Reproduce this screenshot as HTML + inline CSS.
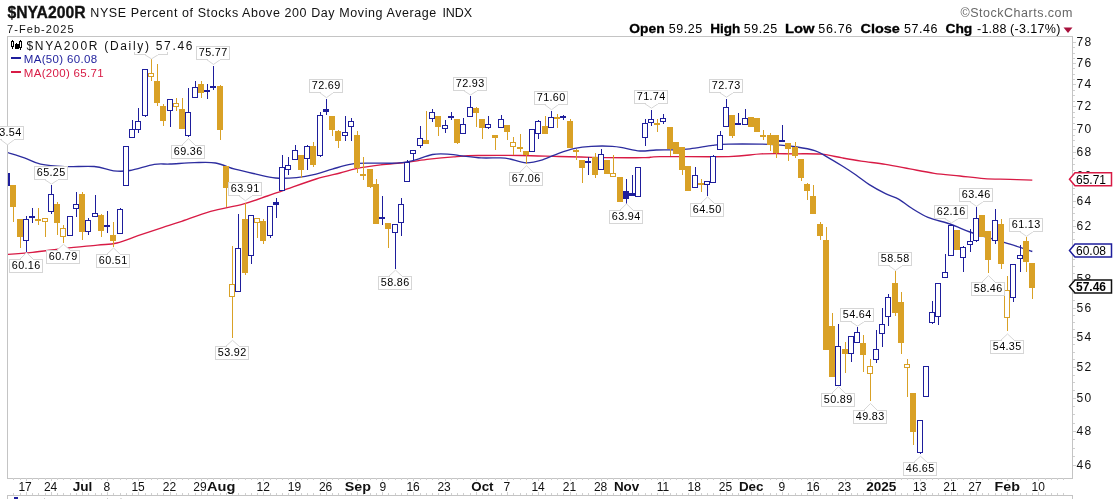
<!DOCTYPE html><html><head><meta charset="utf-8"><style>
html,body{margin:0;padding:0;background:#fff;}
body{width:1117px;height:499px;overflow:hidden;position:relative;font-family:"Liberation Sans",sans-serif;}
svg{position:absolute;left:0;top:0;}
text{font-family:"Liberation Sans",sans-serif;}
#wrap{position:absolute;left:0;top:0;width:1117px;height:499px;will-change:transform;}
</style></head><body><div id="wrap">
<svg width="1117" height="499" viewBox="0 0 1117 499" shape-rendering="crispEdges">
<g>

<text x="7.5" y="18" font-size="16.5" fill="#111" textLength="78" lengthAdjust="spacingAndGlyphs" font-weight="bold" stroke="#111" stroke-width="0.35">$NYA200R</text>
<text x="90.3" y="17.2" font-size="12.5" fill="#111" textLength="346" lengthAdjust="spacing" >NYSE Percent of Stocks Above 200 Day Moving Average</text>
<text x="442.5" y="17.2" font-size="12.5" fill="#111" textLength="29.5" lengthAdjust="spacing" >INDX</text>
<text x="7" y="32.7" font-size="11" fill="#111" textLength="66.5" lengthAdjust="spacing" >7-Feb-2025</text>
<text x="960.5" y="17" font-size="12.5" fill="#666" textLength="112" lengthAdjust="spacing" >©StockCharts.com</text>
<text x="629.3" y="33.3" font-size="12.5" fill="#000" textLength="35.3" lengthAdjust="spacingAndGlyphs" font-weight="bold" stroke="#000" stroke-width="0.3">Open</text>
<text x="668.8" y="33.3" font-size="12.5" fill="#000" textLength="33.3" lengthAdjust="spacing" >59.25</text>
<text x="710.2" y="33.3" font-size="12.5" fill="#000" textLength="30" lengthAdjust="spacingAndGlyphs" font-weight="bold" stroke="#000" stroke-width="0.3">High</text>
<text x="743.8" y="33.3" font-size="12.5" fill="#000" textLength="33.3" lengthAdjust="spacing" >59.25</text>
<text x="785" y="33.3" font-size="12.5" fill="#000" textLength="29.5" lengthAdjust="spacingAndGlyphs" font-weight="bold" stroke="#000" stroke-width="0.3">Low</text>
<text x="818.3" y="33.3" font-size="12.5" fill="#000" textLength="34" lengthAdjust="spacing" >56.76</text>
<text x="860.5" y="33.3" font-size="12.5" fill="#000" textLength="39.3" lengthAdjust="spacingAndGlyphs" font-weight="bold" stroke="#000" stroke-width="0.3">Close</text>
<text x="904" y="33.3" font-size="12.5" fill="#000" textLength="33.5" lengthAdjust="spacing" >57.46</text>
<text x="945.5" y="33.3" font-size="12.5" fill="#000" textLength="26.8" lengthAdjust="spacingAndGlyphs" font-weight="bold" stroke="#000" stroke-width="0.3">Chg</text>
<text x="977" y="33.3" font-size="12.5" fill="#000" textLength="29.5" lengthAdjust="spacing" >-1.88</text>
<text x="1010" y="33.3" font-size="12.5" fill="#000" textLength="50.5" lengthAdjust="spacing" >(-3.17%)</text>
<path d="M1063.5 27.5 L1072.5 27.5 L1068 33 Z" fill="#a8103c" shape-rendering="geometricPrecision"/>
<rect x="7.5" y="36.5" width="1065" height="442" fill="none" stroke="#c4c4c4" stroke-width="1"/>
<line x1="7" y1="495.5" x2="1073" y2="495.5" stroke="#c4c4c4"/>
<line x1="7.5" y1="495" x2="7.5" y2="499" stroke="#c4c4c4"/>
<line x1="1072.5" y1="495" x2="1072.5" y2="499" stroke="#c4c4c4"/>
<rect x="14" y="497" width="4" height="2" fill="#1e1e9c"/><rect x="44" y="498" width="1" height="1" fill="#ccc"/><rect x="107" y="498" width="1" height="1" fill="#ccc"/><rect x="120" y="498" width="2" height="1" fill="#ddd"/>
<defs><clipPath id="pc"><rect x="8" y="37" width="1064" height="441"/></clipPath></defs>
<g clip-path="url(#pc)">
<path d="M7.5 254.4 C11.7 254.1 22.9 253.3 32.5 252.3 C42.1 251.3 54.1 249.6 64.9 248.4 C75.7 247.2 88.7 246.0 97.4 245.1 C106.1 244.2 110.1 244.6 116.9 243.0 C123.7 241.4 130.4 238.3 138.0 235.7 C145.6 233.1 155.3 229.9 162.3 227.6 C169.3 225.3 171.9 224.6 180.0 221.9 C188.1 219.2 200.1 214.4 210.6 211.4 C221.1 208.4 233.5 206.7 243.0 204.1 C252.5 201.5 260.6 198.3 267.4 196.0 C274.2 193.7 275.5 193.1 283.6 190.3 C291.7 187.5 306.7 181.9 316.1 179.0 C325.5 176.1 333.3 174.7 340.0 173.0 C346.7 171.3 349.4 169.9 356.2 168.6 C363.0 167.2 372.5 165.9 380.6 164.9 C388.7 163.9 396.8 163.4 404.9 162.5 C413.0 161.6 421.2 160.1 429.3 159.2 C437.4 158.2 445.5 157.4 453.6 156.8 C461.7 156.2 466.9 155.7 478.0 155.5 C489.1 155.3 506.6 155.3 520.0 155.5 C533.5 155.7 546.8 156.2 558.7 156.5 C570.6 156.8 577.1 157.1 591.2 157.3 C605.3 157.5 631.6 157.8 643.1 157.7 C654.6 157.6 645.7 156.8 660.0 156.6 C674.3 156.4 711.8 157.0 728.7 156.6 C745.6 156.2 750.4 154.4 761.2 153.9 C772.0 153.4 783.6 153.8 793.6 153.8 C803.6 153.9 813.1 153.5 821.2 154.2 C829.3 154.9 835.6 156.8 842.3 157.9 C849.0 159.1 854.0 160.0 861.2 161.1 C868.4 162.2 877.4 163.1 885.5 164.4 C893.6 165.7 901.8 167.4 909.9 168.9 C918.0 170.4 925.9 172.1 934.2 173.3 C942.6 174.5 951.7 175.1 960.0 176.0 C968.3 176.9 975.9 178.0 984.2 178.6 C992.5 179.2 1002.0 179.0 1010.0 179.3 C1018.0 179.6 1028.6 180.0 1032.3 180.2" fill="none" stroke="#d81b45" stroke-width="1.35" shape-rendering="geometricPrecision" stroke-linejoin="round"/>
<path d="M7.5 152.5 C10.3 153.4 18.9 156.0 24.4 157.9 C29.9 159.8 33.9 162.8 40.6 164.2 C47.4 165.6 56.0 166.2 64.9 166.6 C73.8 167.0 86.1 165.8 94.2 166.5 C102.3 167.2 107.6 170.1 113.6 170.8 C119.5 171.5 123.1 171.6 129.9 170.5 C136.7 169.4 147.5 165.5 154.2 164.4 C160.9 163.3 163.3 164.3 170.0 164.0 C176.7 163.7 186.8 162.9 194.4 162.7 C202.0 162.5 208.8 161.9 215.5 163.0 C222.2 164.1 228.2 167.3 234.9 169.2 C241.7 171.0 249.2 172.6 256.0 174.1 C262.8 175.6 268.7 177.4 275.5 178.0 C282.3 178.6 289.8 178.2 296.6 177.6 C303.4 176.9 310.2 175.5 316.1 174.1 C322.1 172.7 326.4 170.9 332.3 169.2 C338.2 167.5 344.7 165.1 351.4 164.1 C358.1 163.1 364.9 163.3 372.5 163.1 C380.1 162.9 390.1 163.5 396.8 163.1 C403.6 162.7 407.1 162.0 413.0 160.6 C418.9 159.2 426.3 155.6 432.5 154.5 C438.7 153.4 445.5 154.1 450.4 154.3 C455.3 154.5 456.7 155.2 461.8 155.8 C466.9 156.4 474.7 157.6 481.2 157.9 C487.7 158.2 495.9 157.7 500.7 157.9 C505.5 158.1 505.8 158.2 510.0 159.0 C514.2 159.8 520.8 162.7 526.2 162.8 C531.6 162.9 537.1 161.4 542.5 159.8 C547.9 158.2 553.3 155.2 558.7 153.3 C564.1 151.4 569.5 149.6 574.9 148.4 C580.3 147.2 585.0 146.7 591.2 146.3 C597.4 146.0 606.9 146.0 612.3 146.3 C617.7 146.6 619.0 147.1 623.6 147.9 C628.2 148.7 634.5 150.7 639.9 151.0 C645.3 151.3 650.7 150.2 656.1 150.0 C661.5 149.8 666.6 150.0 672.3 149.8 C677.9 149.6 683.3 149.5 690.0 148.8 C696.7 148.1 706.0 146.2 712.5 145.4 C719.0 144.6 720.6 144.3 728.7 144.1 C736.8 143.9 753.1 144.0 761.2 144.1 C769.3 144.2 771.5 144.4 777.4 144.9 C783.3 145.4 790.7 146.1 796.9 147.0 C803.1 147.9 809.8 149.0 814.7 150.6 C819.6 152.2 821.5 153.7 826.1 156.3 C830.7 158.9 837.3 162.9 842.3 166.0 C847.3 169.1 851.5 171.9 856.0 175.0 C860.5 178.1 864.4 181.5 869.3 184.6 C874.2 187.7 880.5 191.1 885.5 193.6 C890.5 196.1 894.8 196.9 899.0 199.3 C903.2 201.7 906.2 204.8 911.0 207.8 C915.8 210.8 921.5 214.6 928.0 217.3 C934.5 220.0 943.0 221.6 950.0 224.0 C957.0 226.4 963.3 229.6 970.0 232.0 C976.7 234.4 983.3 236.2 990.0 238.2 C996.7 240.2 1003.0 242.0 1010.0 244.2 C1017.0 246.4 1028.6 250.3 1032.3 251.5" fill="none" stroke="#2d2d9f" stroke-width="1.35" shape-rendering="geometricPrecision" stroke-linejoin="round"/>
<rect x="4" y="173" width="6" height="13" fill="#1e1e9c"/>
<rect x="13" y="207" width="1" height="15" fill="#d9a126"/>
<rect x="10" y="185" width="6" height="22" fill="#d9a126"/>
<rect x="20" y="237" width="1" height="11" fill="#d9a126"/>
<rect x="17" y="219" width="6" height="18" fill="#d9a126"/>
<rect x="26" y="216" width="1" height="3" fill="#1e1e9c"/>
<rect x="26" y="241" width="1" height="11" fill="#1e1e9c"/>
<rect x="23.5" y="219.5" width="5" height="21" fill="#fff" stroke="#1e1e9c" stroke-width="1"/>
<rect x="32" y="208" width="1" height="8" fill="#1e1e9c"/>
<rect x="32" y="218" width="1" height="5" fill="#1e1e9c"/>
<rect x="29" y="216" width="6" height="2" fill="#1e1e9c"/>
<rect x="38" y="208" width="1" height="11" fill="#d9a126"/>
<rect x="38" y="221" width="1" height="4" fill="#d9a126"/>
<rect x="35" y="219" width="6" height="2" fill="#d9a126"/>
<rect x="45" y="222" width="1" height="15" fill="#d9a126"/>
<rect x="42.5" y="218.5" width="5" height="3" fill="#fff" stroke="#d9a126" stroke-width="1"/>
<rect x="51" y="185" width="1" height="9" fill="#1e1e9c"/>
<rect x="51" y="212" width="1" height="2" fill="#1e1e9c"/>
<rect x="48.5" y="194.5" width="5" height="17" fill="#fff" stroke="#1e1e9c" stroke-width="1"/>
<rect x="57" y="202" width="1" height="2" fill="#d9a126"/>
<rect x="57" y="223" width="1" height="12" fill="#d9a126"/>
<rect x="54" y="204" width="6" height="19" fill="#d9a126"/>
<rect x="63" y="225" width="1" height="3" fill="#d9a126"/>
<rect x="63" y="237" width="1" height="6" fill="#d9a126"/>
<rect x="60.5" y="228.5" width="5" height="8" fill="#fff" stroke="#d9a126" stroke-width="1"/>
<rect x="67.5" y="216.5" width="5" height="19" fill="#fff" stroke="#1e1e9c" stroke-width="1"/>
<rect x="76" y="192" width="1" height="12" fill="#1e1e9c"/>
<rect x="76" y="209" width="1" height="8" fill="#1e1e9c"/>
<rect x="73.5" y="204.5" width="5" height="4" fill="#fff" stroke="#1e1e9c" stroke-width="1"/>
<rect x="82" y="192" width="1" height="2" fill="#d9a126"/>
<rect x="82" y="232" width="1" height="8" fill="#d9a126"/>
<rect x="79" y="194" width="6" height="38" fill="#d9a126"/>
<rect x="88" y="218" width="1" height="2" fill="#1e1e9c"/>
<rect x="88" y="232" width="1" height="3" fill="#1e1e9c"/>
<rect x="85.5" y="220.5" width="5" height="11" fill="#fff" stroke="#1e1e9c" stroke-width="1"/>
<rect x="95" y="195" width="1" height="18" fill="#1e1e9c"/>
<rect x="92.5" y="213.5" width="5" height="3" fill="#fff" stroke="#1e1e9c" stroke-width="1"/>
<rect x="101" y="214" width="1" height="1" fill="#d9a126"/>
<rect x="101" y="231" width="1" height="6" fill="#d9a126"/>
<rect x="98" y="215" width="6" height="16" fill="#d9a126"/>
<rect x="107" y="211" width="1" height="14" fill="#1e1e9c"/>
<rect x="107" y="227" width="1" height="6" fill="#1e1e9c"/>
<rect x="104" y="225" width="6" height="2" fill="#1e1e9c"/>
<rect x="113" y="222" width="1" height="13" fill="#d9a126"/>
<rect x="113" y="241" width="1" height="6" fill="#d9a126"/>
<rect x="110" y="235" width="6" height="6" fill="#d9a126"/>
<rect x="120" y="208" width="1" height="1" fill="#1e1e9c"/>
<rect x="117.5" y="209.5" width="5" height="24" fill="#fff" stroke="#1e1e9c" stroke-width="1"/>
<rect x="123.5" y="146.5" width="5" height="39" fill="#fff" stroke="#1e1e9c" stroke-width="1"/>
<rect x="132" y="120" width="1" height="9" fill="#1e1e9c"/>
<rect x="129.5" y="129.5" width="5" height="8" fill="#fff" stroke="#1e1e9c" stroke-width="1"/>
<rect x="138" y="108" width="1" height="13" fill="#1e1e9c"/>
<rect x="138" y="130" width="1" height="3" fill="#1e1e9c"/>
<rect x="135.5" y="121.5" width="5" height="8" fill="#fff" stroke="#1e1e9c" stroke-width="1"/>
<rect x="145" y="116" width="1" height="1" fill="#1e1e9c"/>
<rect x="142.5" y="69.5" width="5" height="46" fill="#fff" stroke="#1e1e9c" stroke-width="1"/>
<rect x="151" y="59" width="1" height="14" fill="#d9a126"/>
<rect x="151" y="77" width="1" height="4" fill="#d9a126"/>
<rect x="148.5" y="73.5" width="5" height="3" fill="#fff" stroke="#d9a126" stroke-width="1"/>
<rect x="157" y="64" width="1" height="17" fill="#d9a126"/>
<rect x="157" y="103" width="1" height="3" fill="#d9a126"/>
<rect x="154" y="81" width="6" height="22" fill="#d9a126"/>
<rect x="163" y="104" width="1" height="2" fill="#d9a126"/>
<rect x="163" y="121" width="1" height="5" fill="#d9a126"/>
<rect x="160" y="106" width="6" height="15" fill="#d9a126"/>
<rect x="170" y="111" width="1" height="16" fill="#1e1e9c"/>
<rect x="167.5" y="99.5" width="5" height="11" fill="#fff" stroke="#1e1e9c" stroke-width="1"/>
<rect x="176" y="98" width="1" height="5" fill="#d9a126"/>
<rect x="176" y="107" width="1" height="4" fill="#d9a126"/>
<rect x="173.5" y="103.5" width="5" height="3" fill="#fff" stroke="#d9a126" stroke-width="1"/>
<rect x="182" y="98" width="1" height="11" fill="#d9a126"/>
<rect x="179" y="109" width="6" height="20" fill="#d9a126"/>
<rect x="188" y="88" width="1" height="24" fill="#1e1e9c"/>
<rect x="188" y="136" width="1" height="1" fill="#1e1e9c"/>
<rect x="185.5" y="112.5" width="5" height="23" fill="#fff" stroke="#1e1e9c" stroke-width="1"/>
<rect x="195" y="81" width="1" height="6" fill="#1e1e9c"/>
<rect x="192.5" y="87.5" width="5" height="10" fill="#fff" stroke="#1e1e9c" stroke-width="1"/>
<rect x="201" y="81" width="1" height="3" fill="#d9a126"/>
<rect x="201" y="93" width="1" height="5" fill="#d9a126"/>
<rect x="198" y="84" width="6" height="9" fill="#d9a126"/>
<rect x="207" y="84" width="1" height="6" fill="#1e1e9c"/>
<rect x="207" y="92" width="1" height="7" fill="#1e1e9c"/>
<rect x="204" y="90" width="6" height="2" fill="#1e1e9c"/>
<rect x="213" y="66" width="1" height="20" fill="#1e1e9c"/>
<rect x="213" y="88" width="1" height="2" fill="#1e1e9c"/>
<rect x="210" y="86" width="6" height="2" fill="#1e1e9c"/>
<rect x="220" y="85" width="1" height="1" fill="#d9a126"/>
<rect x="220" y="130" width="1" height="10" fill="#d9a126"/>
<rect x="217" y="86" width="6" height="44" fill="#d9a126"/>
<rect x="226" y="188" width="1" height="19" fill="#d9a126"/>
<rect x="223" y="166" width="6" height="22" fill="#d9a126"/>
<rect x="232" y="246" width="1" height="38" fill="#d9a126"/>
<rect x="232" y="297" width="1" height="41" fill="#d9a126"/>
<rect x="229.5" y="284.5" width="5" height="12" fill="#fff" stroke="#d9a126" stroke-width="1"/>
<rect x="238" y="214" width="1" height="34" fill="#1e1e9c"/>
<rect x="235.5" y="248.5" width="5" height="43" fill="#fff" stroke="#1e1e9c" stroke-width="1"/>
<rect x="245" y="203" width="1" height="16" fill="#d9a126"/>
<rect x="245" y="273" width="1" height="2" fill="#d9a126"/>
<rect x="242" y="219" width="6" height="54" fill="#d9a126"/>
<rect x="251" y="256" width="1" height="8" fill="#1e1e9c"/>
<rect x="248.5" y="215.5" width="5" height="40" fill="#fff" stroke="#1e1e9c" stroke-width="1"/>
<rect x="257" y="223" width="1" height="15" fill="#d9a126"/>
<rect x="254.5" y="218.5" width="5" height="4" fill="#fff" stroke="#d9a126" stroke-width="1"/>
<rect x="263" y="219" width="1" height="2" fill="#d9a126"/>
<rect x="263" y="241" width="1" height="3" fill="#d9a126"/>
<rect x="260" y="221" width="6" height="20" fill="#d9a126"/>
<rect x="270" y="236" width="1" height="2" fill="#1e1e9c"/>
<rect x="267.5" y="206.5" width="5" height="29" fill="#fff" stroke="#1e1e9c" stroke-width="1"/>
<rect x="276" y="198" width="1" height="4" fill="#1e1e9c"/>
<rect x="276" y="205" width="1" height="13" fill="#1e1e9c"/>
<rect x="273" y="202" width="6" height="3" fill="#1e1e9c"/>
<rect x="282" y="155" width="1" height="12" fill="#1e1e9c"/>
<rect x="279.5" y="167.5" width="5" height="23" fill="#fff" stroke="#1e1e9c" stroke-width="1"/>
<rect x="288" y="157" width="1" height="8" fill="#1e1e9c"/>
<rect x="288" y="170" width="1" height="5" fill="#1e1e9c"/>
<rect x="285.5" y="165.5" width="5" height="4" fill="#fff" stroke="#1e1e9c" stroke-width="1"/>
<rect x="295" y="145" width="1" height="5" fill="#1e1e9c"/>
<rect x="292.5" y="150.5" width="5" height="9" fill="#fff" stroke="#1e1e9c" stroke-width="1"/>
<rect x="301" y="170" width="1" height="8" fill="#d9a126"/>
<rect x="298" y="155" width="6" height="15" fill="#d9a126"/>
<rect x="307" y="145" width="1" height="1" fill="#1e1e9c"/>
<rect x="307" y="159" width="1" height="11" fill="#1e1e9c"/>
<rect x="304.5" y="146.5" width="5" height="12" fill="#fff" stroke="#1e1e9c" stroke-width="1"/>
<rect x="313" y="142" width="1" height="4" fill="#d9a126"/>
<rect x="313" y="165" width="1" height="2" fill="#d9a126"/>
<rect x="310" y="146" width="6" height="19" fill="#d9a126"/>
<rect x="320" y="112" width="1" height="3" fill="#1e1e9c"/>
<rect x="320" y="156" width="1" height="1" fill="#1e1e9c"/>
<rect x="317.5" y="115.5" width="5" height="40" fill="#fff" stroke="#1e1e9c" stroke-width="1"/>
<rect x="326" y="99" width="1" height="10" fill="#1e1e9c"/>
<rect x="326" y="112" width="1" height="3" fill="#1e1e9c"/>
<rect x="323" y="109" width="6" height="3" fill="#1e1e9c"/>
<rect x="332" y="130" width="1" height="6" fill="#d9a126"/>
<rect x="329" y="116" width="6" height="14" fill="#d9a126"/>
<rect x="338" y="130" width="1" height="1" fill="#d9a126"/>
<rect x="338" y="141" width="1" height="7" fill="#d9a126"/>
<rect x="335" y="131" width="6" height="10" fill="#d9a126"/>
<rect x="345" y="116" width="1" height="16" fill="#1e1e9c"/>
<rect x="345" y="136" width="1" height="5" fill="#1e1e9c"/>
<rect x="342.5" y="132.5" width="5" height="3" fill="#fff" stroke="#1e1e9c" stroke-width="1"/>
<rect x="351" y="118" width="1" height="3" fill="#1e1e9c"/>
<rect x="351" y="127" width="1" height="14" fill="#1e1e9c"/>
<rect x="348.5" y="121.5" width="5" height="5" fill="#fff" stroke="#1e1e9c" stroke-width="1"/>
<rect x="357" y="131" width="1" height="4" fill="#d9a126"/>
<rect x="357" y="168" width="1" height="5" fill="#d9a126"/>
<rect x="354" y="135" width="6" height="33" fill="#d9a126"/>
<rect x="363" y="157" width="1" height="17" fill="#d9a126"/>
<rect x="363" y="176" width="1" height="4" fill="#d9a126"/>
<rect x="360" y="174" width="6" height="2" fill="#d9a126"/>
<rect x="370" y="187" width="1" height="1" fill="#d9a126"/>
<rect x="367" y="169" width="6" height="18" fill="#d9a126"/>
<rect x="376" y="179" width="1" height="5" fill="#d9a126"/>
<rect x="373" y="184" width="6" height="40" fill="#d9a126"/>
<rect x="382" y="196" width="1" height="21" fill="#1e1e9c"/>
<rect x="382" y="219" width="1" height="6" fill="#1e1e9c"/>
<rect x="379" y="217" width="6" height="2" fill="#1e1e9c"/>
<rect x="388" y="229" width="1" height="19" fill="#d9a126"/>
<rect x="385" y="223" width="6" height="6" fill="#d9a126"/>
<rect x="395" y="233" width="1" height="36" fill="#1e1e9c"/>
<rect x="392.5" y="224.5" width="5" height="8" fill="#fff" stroke="#1e1e9c" stroke-width="1"/>
<rect x="401" y="198" width="1" height="6" fill="#1e1e9c"/>
<rect x="401" y="223" width="1" height="13" fill="#1e1e9c"/>
<rect x="398.5" y="204.5" width="5" height="18" fill="#fff" stroke="#1e1e9c" stroke-width="1"/>
<rect x="407" y="160" width="1" height="2" fill="#1e1e9c"/>
<rect x="404.5" y="162.5" width="5" height="19" fill="#fff" stroke="#1e1e9c" stroke-width="1"/>
<rect x="413" y="154" width="1" height="6" fill="#1e1e9c"/>
<rect x="410.5" y="150.5" width="5" height="3" fill="#fff" stroke="#1e1e9c" stroke-width="1"/>
<rect x="420" y="126" width="1" height="12" fill="#1e1e9c"/>
<rect x="420" y="146" width="1" height="2" fill="#1e1e9c"/>
<rect x="417.5" y="138.5" width="5" height="7" fill="#fff" stroke="#1e1e9c" stroke-width="1"/>
<rect x="426" y="111" width="1" height="29" fill="#d9a126"/>
<rect x="423" y="140" width="6" height="4" fill="#d9a126"/>
<rect x="432" y="109" width="1" height="3" fill="#1e1e9c"/>
<rect x="432" y="119" width="1" height="3" fill="#1e1e9c"/>
<rect x="429.5" y="112.5" width="5" height="6" fill="#fff" stroke="#1e1e9c" stroke-width="1"/>
<rect x="438" y="127" width="1" height="9" fill="#d9a126"/>
<rect x="435" y="116" width="6" height="11" fill="#d9a126"/>
<rect x="445" y="120" width="1" height="5" fill="#1e1e9c"/>
<rect x="445" y="129" width="1" height="4" fill="#1e1e9c"/>
<rect x="442.5" y="125.5" width="5" height="3" fill="#fff" stroke="#1e1e9c" stroke-width="1"/>
<rect x="451" y="112" width="1" height="4" fill="#1e1e9c"/>
<rect x="451" y="118" width="1" height="2" fill="#1e1e9c"/>
<rect x="448" y="116" width="6" height="2" fill="#1e1e9c"/>
<rect x="457" y="143" width="1" height="1" fill="#d9a126"/>
<rect x="454" y="119" width="6" height="24" fill="#d9a126"/>
<rect x="463" y="118" width="1" height="6" fill="#1e1e9c"/>
<rect x="460.5" y="124.5" width="5" height="9" fill="#fff" stroke="#1e1e9c" stroke-width="1"/>
<rect x="470" y="96" width="1" height="11" fill="#1e1e9c"/>
<rect x="467.5" y="107.5" width="5" height="9" fill="#fff" stroke="#1e1e9c" stroke-width="1"/>
<rect x="476" y="107" width="1" height="1" fill="#d9a126"/>
<rect x="476" y="113" width="1" height="14" fill="#d9a126"/>
<rect x="473" y="108" width="6" height="5" fill="#d9a126"/>
<rect x="482" y="128" width="1" height="11" fill="#d9a126"/>
<rect x="479" y="119" width="6" height="9" fill="#d9a126"/>
<rect x="488" y="116" width="1" height="8" fill="#1e1e9c"/>
<rect x="488" y="128" width="1" height="1" fill="#1e1e9c"/>
<rect x="485.5" y="124.5" width="5" height="3" fill="#fff" stroke="#1e1e9c" stroke-width="1"/>
<rect x="495" y="138" width="1" height="12" fill="#d9a126"/>
<rect x="492" y="135" width="6" height="3" fill="#d9a126"/>
<rect x="501" y="115" width="1" height="4" fill="#1e1e9c"/>
<rect x="498.5" y="119.5" width="5" height="8" fill="#fff" stroke="#1e1e9c" stroke-width="1"/>
<rect x="507" y="132" width="1" height="8" fill="#d9a126"/>
<rect x="504" y="125" width="6" height="7" fill="#d9a126"/>
<rect x="513" y="137" width="1" height="5" fill="#d9a126"/>
<rect x="513" y="147" width="1" height="8" fill="#d9a126"/>
<rect x="510.5" y="142.5" width="5" height="4" fill="#fff" stroke="#d9a126" stroke-width="1"/>
<rect x="520" y="134" width="1" height="13" fill="#d9a126"/>
<rect x="520" y="149" width="1" height="3" fill="#d9a126"/>
<rect x="517" y="147" width="6" height="2" fill="#d9a126"/>
<rect x="526" y="155" width="1" height="9" fill="#d9a126"/>
<rect x="523" y="151" width="6" height="4" fill="#d9a126"/>
<rect x="529.5" y="129.5" width="5" height="22" fill="#fff" stroke="#1e1e9c" stroke-width="1"/>
<rect x="538" y="120" width="1" height="1" fill="#1e1e9c"/>
<rect x="538" y="134" width="1" height="5" fill="#1e1e9c"/>
<rect x="535.5" y="121.5" width="5" height="12" fill="#fff" stroke="#1e1e9c" stroke-width="1"/>
<rect x="545" y="116" width="1" height="10" fill="#d9a126"/>
<rect x="542" y="126" width="6" height="8" fill="#d9a126"/>
<rect x="551" y="111" width="1" height="6" fill="#1e1e9c"/>
<rect x="548.5" y="117.5" width="5" height="10" fill="#fff" stroke="#1e1e9c" stroke-width="1"/>
<rect x="557" y="114" width="1" height="3" fill="#d9a126"/>
<rect x="557" y="119" width="1" height="9" fill="#d9a126"/>
<rect x="554" y="117" width="6" height="2" fill="#d9a126"/>
<rect x="563" y="115" width="1" height="1" fill="#1e1e9c"/>
<rect x="563" y="118" width="1" height="2" fill="#1e1e9c"/>
<rect x="560" y="116" width="6" height="2" fill="#1e1e9c"/>
<rect x="570" y="119" width="1" height="2" fill="#d9a126"/>
<rect x="567" y="121" width="6" height="27" fill="#d9a126"/>
<rect x="576" y="149" width="1" height="1" fill="#d9a126"/>
<rect x="576" y="152" width="1" height="8" fill="#d9a126"/>
<rect x="573" y="150" width="6" height="2" fill="#d9a126"/>
<rect x="582" y="168" width="1" height="15" fill="#d9a126"/>
<rect x="579" y="160" width="6" height="8" fill="#d9a126"/>
<rect x="588" y="157" width="1" height="4" fill="#1e1e9c"/>
<rect x="588" y="163" width="1" height="12" fill="#1e1e9c"/>
<rect x="585" y="161" width="6" height="2" fill="#1e1e9c"/>
<rect x="595" y="153" width="1" height="4" fill="#d9a126"/>
<rect x="595" y="175" width="1" height="3" fill="#d9a126"/>
<rect x="592" y="157" width="6" height="18" fill="#d9a126"/>
<rect x="601" y="149" width="1" height="5" fill="#1e1e9c"/>
<rect x="598.5" y="154.5" width="5" height="15" fill="#fff" stroke="#1e1e9c" stroke-width="1"/>
<rect x="604" y="160" width="6" height="14" fill="#d9a126"/>
<rect x="613" y="155" width="1" height="18" fill="#d9a126"/>
<rect x="610.5" y="173.5" width="5" height="3" fill="#fff" stroke="#d9a126" stroke-width="1"/>
<rect x="617" y="177" width="6" height="25" fill="#d9a126"/>
<rect x="626" y="179" width="1" height="12" fill="#1e1e9c"/>
<rect x="626" y="199" width="1" height="5" fill="#1e1e9c"/>
<rect x="623" y="191" width="6" height="8" fill="#1e1e9c"/>
<rect x="632" y="175" width="1" height="18" fill="#1e1e9c"/>
<rect x="629" y="193" width="6" height="3" fill="#1e1e9c"/>
<rect x="635.5" y="167.5" width="5" height="29" fill="#fff" stroke="#1e1e9c" stroke-width="1"/>
<rect x="645" y="119" width="1" height="4" fill="#1e1e9c"/>
<rect x="645" y="138" width="1" height="8" fill="#1e1e9c"/>
<rect x="642.5" y="123.5" width="5" height="14" fill="#fff" stroke="#1e1e9c" stroke-width="1"/>
<rect x="651" y="110" width="1" height="9" fill="#1e1e9c"/>
<rect x="651" y="123" width="1" height="3" fill="#1e1e9c"/>
<rect x="648.5" y="119.5" width="5" height="3" fill="#fff" stroke="#1e1e9c" stroke-width="1"/>
<rect x="657" y="119" width="1" height="4" fill="#d9a126"/>
<rect x="657" y="125" width="1" height="7" fill="#d9a126"/>
<rect x="654" y="123" width="6" height="2" fill="#d9a126"/>
<rect x="663" y="114" width="1" height="4" fill="#1e1e9c"/>
<rect x="663" y="122" width="1" height="2" fill="#1e1e9c"/>
<rect x="660.5" y="118.5" width="5" height="3" fill="#fff" stroke="#1e1e9c" stroke-width="1"/>
<rect x="670" y="149" width="1" height="7" fill="#d9a126"/>
<rect x="667" y="127" width="6" height="22" fill="#d9a126"/>
<rect x="673" y="142" width="6" height="12" fill="#d9a126"/>
<rect x="682" y="170" width="1" height="5" fill="#d9a126"/>
<rect x="679" y="147" width="6" height="23" fill="#d9a126"/>
<rect x="685" y="166" width="6" height="25" fill="#d9a126"/>
<rect x="695" y="167" width="1" height="8" fill="#1e1e9c"/>
<rect x="692.5" y="175.5" width="5" height="12" fill="#fff" stroke="#1e1e9c" stroke-width="1"/>
<rect x="701" y="179" width="1" height="4" fill="#d9a126"/>
<rect x="701" y="185" width="1" height="7" fill="#d9a126"/>
<rect x="698" y="183" width="6" height="2" fill="#d9a126"/>
<rect x="707" y="185" width="1" height="11" fill="#1e1e9c"/>
<rect x="704.5" y="181.5" width="5" height="3" fill="#fff" stroke="#1e1e9c" stroke-width="1"/>
<rect x="713" y="155" width="1" height="1" fill="#1e1e9c"/>
<rect x="710.5" y="156.5" width="5" height="26" fill="#fff" stroke="#1e1e9c" stroke-width="1"/>
<rect x="720" y="131" width="1" height="4" fill="#1e1e9c"/>
<rect x="717.5" y="135.5" width="5" height="14" fill="#fff" stroke="#1e1e9c" stroke-width="1"/>
<rect x="726" y="99" width="1" height="8" fill="#1e1e9c"/>
<rect x="723.5" y="107.5" width="5" height="19" fill="#fff" stroke="#1e1e9c" stroke-width="1"/>
<rect x="732" y="136" width="1" height="2" fill="#d9a126"/>
<rect x="729" y="115" width="6" height="21" fill="#d9a126"/>
<rect x="738" y="113" width="1" height="10" fill="#1e1e9c"/>
<rect x="735" y="123" width="6" height="2" fill="#1e1e9c"/>
<rect x="745" y="109" width="1" height="9" fill="#1e1e9c"/>
<rect x="742.5" y="118.5" width="5" height="6" fill="#fff" stroke="#1e1e9c" stroke-width="1"/>
<rect x="748" y="117" width="6" height="10" fill="#d9a126"/>
<rect x="754" y="118" width="6" height="14" fill="#d9a126"/>
<rect x="763" y="130" width="1" height="5" fill="#d9a126"/>
<rect x="763" y="137" width="1" height="3" fill="#d9a126"/>
<rect x="760" y="135" width="6" height="2" fill="#d9a126"/>
<rect x="770" y="133" width="1" height="2" fill="#d9a126"/>
<rect x="770" y="145" width="1" height="6" fill="#d9a126"/>
<rect x="767" y="135" width="6" height="10" fill="#d9a126"/>
<rect x="776" y="153" width="1" height="5" fill="#d9a126"/>
<rect x="773" y="135" width="6" height="18" fill="#d9a126"/>
<rect x="782" y="125" width="1" height="15" fill="#1e1e9c"/>
<rect x="779" y="140" width="6" height="2" fill="#1e1e9c"/>
<rect x="788" y="149" width="1" height="12" fill="#d9a126"/>
<rect x="785" y="143" width="6" height="6" fill="#d9a126"/>
<rect x="795" y="142" width="1" height="5" fill="#d9a126"/>
<rect x="795" y="156" width="1" height="2" fill="#d9a126"/>
<rect x="792" y="147" width="6" height="9" fill="#d9a126"/>
<rect x="801" y="178" width="1" height="3" fill="#d9a126"/>
<rect x="798" y="159" width="6" height="19" fill="#d9a126"/>
<rect x="807" y="183" width="1" height="1" fill="#d9a126"/>
<rect x="807" y="191" width="1" height="9" fill="#d9a126"/>
<rect x="804" y="184" width="6" height="7" fill="#d9a126"/>
<rect x="813" y="185" width="1" height="11" fill="#d9a126"/>
<rect x="810" y="196" width="6" height="18" fill="#d9a126"/>
<rect x="820" y="222" width="1" height="2" fill="#d9a126"/>
<rect x="820" y="236" width="1" height="4" fill="#d9a126"/>
<rect x="817" y="224" width="6" height="12" fill="#d9a126"/>
<rect x="826" y="227" width="1" height="13" fill="#d9a126"/>
<rect x="823" y="240" width="6" height="110" fill="#d9a126"/>
<rect x="832" y="313" width="1" height="13" fill="#d9a126"/>
<rect x="829" y="326" width="6" height="51" fill="#d9a126"/>
<rect x="838" y="324" width="1" height="22" fill="#1e1e9c"/>
<rect x="835.5" y="346.5" width="5" height="39" fill="#fff" stroke="#1e1e9c" stroke-width="1"/>
<rect x="845" y="342" width="1" height="7" fill="#d9a126"/>
<rect x="845" y="354" width="1" height="19" fill="#d9a126"/>
<rect x="842" y="349" width="6" height="5" fill="#d9a126"/>
<rect x="851" y="354" width="1" height="8" fill="#1e1e9c"/>
<rect x="848.5" y="336.5" width="5" height="17" fill="#fff" stroke="#1e1e9c" stroke-width="1"/>
<rect x="857" y="327" width="1" height="5" fill="#1e1e9c"/>
<rect x="854.5" y="332.5" width="5" height="10" fill="#fff" stroke="#1e1e9c" stroke-width="1"/>
<rect x="863" y="335" width="1" height="8" fill="#d9a126"/>
<rect x="863" y="355" width="1" height="17" fill="#d9a126"/>
<rect x="860" y="343" width="6" height="12" fill="#d9a126"/>
<rect x="870" y="359" width="1" height="7" fill="#d9a126"/>
<rect x="870" y="374" width="1" height="27" fill="#d9a126"/>
<rect x="867.5" y="366.5" width="5" height="7" fill="#fff" stroke="#d9a126" stroke-width="1"/>
<rect x="876" y="330" width="1" height="19" fill="#1e1e9c"/>
<rect x="876" y="360" width="1" height="3" fill="#1e1e9c"/>
<rect x="873.5" y="349.5" width="5" height="10" fill="#fff" stroke="#1e1e9c" stroke-width="1"/>
<rect x="882" y="308" width="1" height="16" fill="#1e1e9c"/>
<rect x="882" y="334" width="1" height="13" fill="#1e1e9c"/>
<rect x="879.5" y="324.5" width="5" height="9" fill="#fff" stroke="#1e1e9c" stroke-width="1"/>
<rect x="888" y="294" width="1" height="3" fill="#1e1e9c"/>
<rect x="888" y="317" width="1" height="9" fill="#1e1e9c"/>
<rect x="885.5" y="297.5" width="5" height="19" fill="#fff" stroke="#1e1e9c" stroke-width="1"/>
<rect x="895" y="271" width="1" height="12" fill="#d9a126"/>
<rect x="895" y="313" width="1" height="3" fill="#d9a126"/>
<rect x="892" y="283" width="6" height="30" fill="#d9a126"/>
<rect x="901" y="292" width="1" height="10" fill="#d9a126"/>
<rect x="901" y="343" width="1" height="11" fill="#d9a126"/>
<rect x="898" y="302" width="6" height="41" fill="#d9a126"/>
<rect x="907" y="359" width="1" height="5" fill="#d9a126"/>
<rect x="907" y="368" width="1" height="29" fill="#d9a126"/>
<rect x="904.5" y="364.5" width="5" height="3" fill="#fff" stroke="#d9a126" stroke-width="1"/>
<rect x="913" y="432" width="1" height="13" fill="#d9a126"/>
<rect x="910" y="393" width="6" height="39" fill="#d9a126"/>
<rect x="920" y="453" width="1" height="1" fill="#1e1e9c"/>
<rect x="917.5" y="420.5" width="5" height="32" fill="#fff" stroke="#1e1e9c" stroke-width="1"/>
<rect x="923.5" y="366.5" width="5" height="30" fill="#fff" stroke="#1e1e9c" stroke-width="1"/>
<rect x="932" y="301" width="1" height="11" fill="#1e1e9c"/>
<rect x="932" y="323" width="1" height="1" fill="#1e1e9c"/>
<rect x="929.5" y="312.5" width="5" height="10" fill="#fff" stroke="#1e1e9c" stroke-width="1"/>
<rect x="938" y="317" width="1" height="8" fill="#1e1e9c"/>
<rect x="935.5" y="283.5" width="5" height="33" fill="#fff" stroke="#1e1e9c" stroke-width="1"/>
<rect x="945" y="254" width="1" height="18" fill="#1e1e9c"/>
<rect x="942.5" y="272.5" width="5" height="5" fill="#fff" stroke="#1e1e9c" stroke-width="1"/>
<rect x="951" y="224" width="1" height="1" fill="#1e1e9c"/>
<rect x="948.5" y="225.5" width="5" height="30" fill="#fff" stroke="#1e1e9c" stroke-width="1"/>
<rect x="954" y="230" width="6" height="20" fill="#d9a126"/>
<rect x="963" y="246" width="1" height="1" fill="#1e1e9c"/>
<rect x="963" y="258" width="1" height="14" fill="#1e1e9c"/>
<rect x="960.5" y="247.5" width="5" height="10" fill="#fff" stroke="#1e1e9c" stroke-width="1"/>
<rect x="970" y="229" width="1" height="12" fill="#1e1e9c"/>
<rect x="970" y="245" width="1" height="7" fill="#1e1e9c"/>
<rect x="967.5" y="241.5" width="5" height="3" fill="#fff" stroke="#1e1e9c" stroke-width="1"/>
<rect x="976" y="207" width="1" height="11" fill="#1e1e9c"/>
<rect x="976" y="241" width="1" height="1" fill="#1e1e9c"/>
<rect x="973.5" y="218.5" width="5" height="22" fill="#fff" stroke="#1e1e9c" stroke-width="1"/>
<rect x="979" y="215" width="6" height="22" fill="#d9a126"/>
<rect x="988" y="260" width="1" height="13" fill="#d9a126"/>
<rect x="985" y="231" width="6" height="29" fill="#d9a126"/>
<rect x="995" y="209" width="1" height="11" fill="#1e1e9c"/>
<rect x="995" y="241" width="1" height="3" fill="#1e1e9c"/>
<rect x="992.5" y="220.5" width="5" height="20" fill="#fff" stroke="#1e1e9c" stroke-width="1"/>
<rect x="1001" y="219" width="1" height="5" fill="#d9a126"/>
<rect x="1001" y="264" width="1" height="5" fill="#d9a126"/>
<rect x="998" y="224" width="6" height="40" fill="#d9a126"/>
<rect x="1007" y="276" width="1" height="14" fill="#d9a126"/>
<rect x="1007" y="318" width="1" height="13" fill="#d9a126"/>
<rect x="1004.5" y="290.5" width="5" height="27" fill="#fff" stroke="#d9a126" stroke-width="1"/>
<rect x="1013" y="298" width="1" height="4" fill="#1e1e9c"/>
<rect x="1010.5" y="264.5" width="5" height="33" fill="#fff" stroke="#1e1e9c" stroke-width="1"/>
<rect x="1020" y="245" width="1" height="10" fill="#1e1e9c"/>
<rect x="1020" y="259" width="1" height="13" fill="#1e1e9c"/>
<rect x="1017.5" y="255.5" width="5" height="3" fill="#fff" stroke="#1e1e9c" stroke-width="1"/>
<rect x="1026" y="237" width="1" height="4" fill="#d9a126"/>
<rect x="1026" y="262" width="1" height="10" fill="#d9a126"/>
<rect x="1023" y="241" width="6" height="21" fill="#d9a126"/>
<rect x="1032" y="288" width="1" height="11" fill="#d9a126"/>
<rect x="1029" y="263" width="6" height="25" fill="#d9a126"/>
</g>
<path d="M144.5 54.5 L151.5 58.9 L158.5 54.5 Z" fill="#fff" stroke="#d6d6d6" stroke-width="1" shape-rendering="geometricPrecision"/>
<rect x="134.5" y="41.5" width="33" height="13" fill="#fff" stroke="#d6d6d6" stroke-width="1"/>
<line x1="145.5" y1="54.5" x2="157.5" y2="54.5" stroke="#fff" stroke-width="1.2"/>
<text x="136.8" y="51.3" font-size="10.8" fill="#000" textLength="28.4" lengthAdjust="spacing">76.43</text>
<path d="M0.5 139.5 L7.5 144.8 L14.5 139.5 Z" fill="#fff" stroke="#d6d6d6" stroke-width="1" shape-rendering="geometricPrecision"/>
<rect x="-9.5" y="126.5" width="33" height="13" fill="#fff" stroke="#d6d6d6" stroke-width="1"/>
<line x1="1.5" y1="139.5" x2="13.5" y2="139.5" stroke="#fff" stroke-width="1.2"/>
<text x="-7.2" y="136.3" font-size="10.8" fill="#000" textLength="28.4" lengthAdjust="spacing">63.54</text>
<path d="M44.5 179.5 L51.5 184.1068806286503 L58.5 179.5 Z" fill="#fff" stroke="#d6d6d6" stroke-width="1" shape-rendering="geometricPrecision"/>
<rect x="34.5" y="166.5" width="33" height="13" fill="#fff" stroke="#d6d6d6" stroke-width="1"/>
<line x1="45.5" y1="179.5" x2="57.5" y2="179.5" stroke="#fff" stroke-width="1.2"/>
<text x="36.8" y="176.3" font-size="10.8" fill="#000" textLength="28.4" lengthAdjust="spacing">65.25</text>
<path d="M19.5 259.5 L26.5 252.6327414485586 L33.5 259.5 Z" fill="#fff" stroke="#d6d6d6" stroke-width="1" shape-rendering="geometricPrecision"/>
<rect x="9.5" y="259.5" width="33" height="13" fill="#fff" stroke="#d6d6d6" stroke-width="1"/>
<line x1="20.5" y1="259.5" x2="32.5" y2="259.5" stroke="#fff" stroke-width="1.2"/>
<text x="11.8" y="269.3" font-size="10.8" fill="#000" textLength="28.4" lengthAdjust="spacing">60.16</text>
<path d="M56.5 250.5 L63.5 244.2920806513862 L70.5 250.5 Z" fill="#fff" stroke="#d6d6d6" stroke-width="1" shape-rendering="geometricPrecision"/>
<rect x="46.5" y="250.5" width="33" height="13" fill="#fff" stroke="#d6d6d6" stroke-width="1"/>
<line x1="57.5" y1="250.5" x2="69.5" y2="250.5" stroke="#fff" stroke-width="1.2"/>
<text x="48.8" y="260.3" font-size="10.8" fill="#000" textLength="28.4" lengthAdjust="spacing">60.79</text>
<path d="M106.5 254.5 L113.5 247.98831804901693 L120.5 254.5 Z" fill="#fff" stroke="#d6d6d6" stroke-width="1" shape-rendering="geometricPrecision"/>
<rect x="96.5" y="254.5" width="33" height="13" fill="#fff" stroke="#d6d6d6" stroke-width="1"/>
<line x1="107.5" y1="254.5" x2="119.5" y2="254.5" stroke="#fff" stroke-width="1.2"/>
<text x="98.8" y="264.3" font-size="10.8" fill="#000" textLength="28.4" lengthAdjust="spacing">60.51</text>
<path d="M206.5 59.5 L213.5 64.43159871073021 L220.5 59.5 Z" fill="#fff" stroke="#d6d6d6" stroke-width="1" shape-rendering="geometricPrecision"/>
<rect x="196.5" y="46.5" width="33" height="13" fill="#fff" stroke="#d6d6d6" stroke-width="1"/>
<line x1="207.5" y1="59.5" x2="219.5" y2="59.5" stroke="#fff" stroke-width="1.2"/>
<text x="198.8" y="56.3" font-size="10.8" fill="#000" textLength="28.4" lengthAdjust="spacing">75.77</text>
<path d="M181.5 145.5 L188.5 138.7009685127132 L195.5 145.5 Z" fill="#fff" stroke="#d6d6d6" stroke-width="1" shape-rendering="geometricPrecision"/>
<rect x="171.5" y="145.5" width="33" height="13" fill="#fff" stroke="#d6d6d6" stroke-width="1"/>
<line x1="182.5" y1="145.5" x2="194.5" y2="145.5" stroke="#fff" stroke-width="1.2"/>
<text x="173.8" y="155.3" font-size="10.8" fill="#000" textLength="28.4" lengthAdjust="spacing">69.36</text>
<path d="M238.5 195.5 L245.5 200.72011528874054 L252.5 195.5 Z" fill="#fff" stroke="#d6d6d6" stroke-width="1" shape-rendering="geometricPrecision"/>
<rect x="228.5" y="182.5" width="33" height="13" fill="#fff" stroke="#d6d6d6" stroke-width="1"/>
<line x1="239.5" y1="195.5" x2="251.5" y2="195.5" stroke="#fff" stroke-width="1.2"/>
<text x="230.8" y="192.3" font-size="10.8" fill="#000" textLength="28.4" lengthAdjust="spacing">63.91</text>
<path d="M225.5 346.5 L232.5 340.306700792798 L239.5 346.5 Z" fill="#fff" stroke="#d6d6d6" stroke-width="1" shape-rendering="geometricPrecision"/>
<rect x="215.5" y="346.5" width="33" height="13" fill="#fff" stroke="#d6d6d6" stroke-width="1"/>
<line x1="226.5" y1="346.5" x2="238.5" y2="346.5" stroke="#fff" stroke-width="1.2"/>
<text x="217.8" y="356.3" font-size="10.8" fill="#000" textLength="28.4" lengthAdjust="spacing">53.92</text>
<path d="M319.5 92.5 L326.5 97.65663279396176 L333.5 92.5 Z" fill="#fff" stroke="#d6d6d6" stroke-width="1" shape-rendering="geometricPrecision"/>
<rect x="309.5" y="79.5" width="33" height="13" fill="#fff" stroke="#d6d6d6" stroke-width="1"/>
<line x1="320.5" y1="92.5" x2="332.5" y2="92.5" stroke="#fff" stroke-width="1.2"/>
<text x="311.8" y="89.3" font-size="10.8" fill="#000" textLength="28.4" lengthAdjust="spacing">72.69</text>
<path d="M388.5 276.5 L395.5 270.12325385777103 L402.5 276.5 Z" fill="#fff" stroke="#d6d6d6" stroke-width="1" shape-rendering="geometricPrecision"/>
<rect x="378.5" y="276.5" width="33" height="13" fill="#fff" stroke="#d6d6d6" stroke-width="1"/>
<line x1="389.5" y1="276.5" x2="401.5" y2="276.5" stroke="#fff" stroke-width="1.2"/>
<text x="380.8" y="286.3" font-size="10.8" fill="#000" textLength="28.4" lengthAdjust="spacing">58.86</text>
<path d="M463.5 90.5 L470.5 95.01755335457892 L477.5 90.5 Z" fill="#fff" stroke="#d6d6d6" stroke-width="1" shape-rendering="geometricPrecision"/>
<rect x="453.5" y="77.5" width="33" height="13" fill="#fff" stroke="#d6d6d6" stroke-width="1"/>
<line x1="464.5" y1="90.5" x2="476.5" y2="90.5" stroke="#fff" stroke-width="1.2"/>
<text x="455.8" y="87.3" font-size="10.8" fill="#000" textLength="28.4" lengthAdjust="spacing">72.93</text>
<path d="M519.5 172.5 L526.5 165.70028689267974 L533.5 172.5 Z" fill="#fff" stroke="#d6d6d6" stroke-width="1" shape-rendering="geometricPrecision"/>
<rect x="509.5" y="172.5" width="33" height="13" fill="#fff" stroke="#d6d6d6" stroke-width="1"/>
<line x1="520.5" y1="172.5" x2="532.5" y2="172.5" stroke="#fff" stroke-width="1.2"/>
<text x="511.8" y="182.3" font-size="10.8" fill="#000" textLength="28.4" lengthAdjust="spacing">67.06</text>
<path d="M544.5 104.5 L551.5 109.75315093012159 L558.5 104.5 Z" fill="#fff" stroke="#d6d6d6" stroke-width="1" shape-rendering="geometricPrecision"/>
<rect x="534.5" y="91.5" width="33" height="13" fill="#fff" stroke="#d6d6d6" stroke-width="1"/>
<line x1="545.5" y1="104.5" x2="557.5" y2="104.5" stroke="#fff" stroke-width="1.2"/>
<text x="536.8" y="101.3" font-size="10.8" fill="#000" textLength="28.4" lengthAdjust="spacing">71.60</text>
<path d="M644.5 103.5 L651.5 108.18920177926566 L658.5 103.5 Z" fill="#fff" stroke="#d6d6d6" stroke-width="1" shape-rendering="geometricPrecision"/>
<rect x="634.5" y="90.5" width="33" height="13" fill="#fff" stroke="#d6d6d6" stroke-width="1"/>
<line x1="645.5" y1="103.5" x2="657.5" y2="103.5" stroke="#fff" stroke-width="1.2"/>
<text x="636.8" y="100.3" font-size="10.8" fill="#000" textLength="28.4" lengthAdjust="spacing">71.74</text>
<path d="M619.5 210.5 L626.5 203.84437965415555 L633.5 210.5 Z" fill="#fff" stroke="#d6d6d6" stroke-width="1" shape-rendering="geometricPrecision"/>
<rect x="609.5" y="210.5" width="33" height="13" fill="#fff" stroke="#d6d6d6" stroke-width="1"/>
<line x1="620.5" y1="210.5" x2="632.5" y2="210.5" stroke="#fff" stroke-width="1.2"/>
<text x="611.8" y="220.3" font-size="10.8" fill="#000" textLength="28.4" lengthAdjust="spacing">63.94</text>
<path d="M700.5 203.5 L707.5 196.862821867624 L714.5 203.5 Z" fill="#fff" stroke="#d6d6d6" stroke-width="1" shape-rendering="geometricPrecision"/>
<rect x="690.5" y="203.5" width="33" height="13" fill="#fff" stroke="#d6d6d6" stroke-width="1"/>
<line x1="701.5" y1="203.5" x2="713.5" y2="203.5" stroke="#fff" stroke-width="1.2"/>
<text x="692.8" y="213.3" font-size="10.8" fill="#000" textLength="28.4" lengthAdjust="spacing">64.50</text>
<path d="M719.5 92.5 L726.5 97.21618167571614 L733.5 92.5 Z" fill="#fff" stroke="#d6d6d6" stroke-width="1" shape-rendering="geometricPrecision"/>
<rect x="709.5" y="79.5" width="33" height="13" fill="#fff" stroke="#d6d6d6" stroke-width="1"/>
<line x1="720.5" y1="92.5" x2="732.5" y2="92.5" stroke="#fff" stroke-width="1.2"/>
<text x="711.8" y="89.3" font-size="10.8" fill="#000" textLength="28.4" lengthAdjust="spacing">72.73</text>
<path d="M831.5 393.5 L838.5 386.61115766182866 L845.5 393.5 Z" fill="#fff" stroke="#d6d6d6" stroke-width="1" shape-rendering="geometricPrecision"/>
<rect x="821.5" y="393.5" width="33" height="13" fill="#fff" stroke="#d6d6d6" stroke-width="1"/>
<line x1="832.5" y1="393.5" x2="844.5" y2="393.5" stroke="#fff" stroke-width="1.2"/>
<text x="823.8" y="403.3" font-size="10.8" fill="#000" textLength="28.4" lengthAdjust="spacing">50.89</text>
<path d="M863.5 410.5 L870.5 403.46380132160493 L877.5 410.5 Z" fill="#fff" stroke="#d6d6d6" stroke-width="1" shape-rendering="geometricPrecision"/>
<rect x="853.5" y="410.5" width="33" height="13" fill="#fff" stroke="#d6d6d6" stroke-width="1"/>
<line x1="864.5" y1="410.5" x2="876.5" y2="410.5" stroke="#fff" stroke-width="1.2"/>
<text x="855.8" y="420.3" font-size="10.8" fill="#000" textLength="28.4" lengthAdjust="spacing">49.83</text>
<path d="M850.5 321.5 L857.5 326.1865450743571 L864.5 321.5 Z" fill="#fff" stroke="#d6d6d6" stroke-width="1" shape-rendering="geometricPrecision"/>
<rect x="840.5" y="308.5" width="33" height="13" fill="#fff" stroke="#d6d6d6" stroke-width="1"/>
<line x1="851.5" y1="321.5" x2="863.5" y2="321.5" stroke="#fff" stroke-width="1.2"/>
<text x="842.8" y="318.3" font-size="10.8" fill="#000" textLength="28.4" lengthAdjust="spacing">54.64</text>
<path d="M888.5 265.5 L895.5 270.44097907524883 L902.5 265.5 Z" fill="#fff" stroke="#d6d6d6" stroke-width="1" shape-rendering="geometricPrecision"/>
<rect x="878.5" y="252.5" width="33" height="13" fill="#fff" stroke="#d6d6d6" stroke-width="1"/>
<line x1="889.5" y1="265.5" x2="901.5" y2="265.5" stroke="#fff" stroke-width="1.2"/>
<text x="880.8" y="262.3" font-size="10.8" fill="#000" textLength="28.4" lengthAdjust="spacing">58.58</text>
<path d="M913.5 462.5 L920.5 456.2607742211235 L927.5 462.5 Z" fill="#fff" stroke="#d6d6d6" stroke-width="1" shape-rendering="geometricPrecision"/>
<rect x="903.5" y="462.5" width="33" height="13" fill="#fff" stroke="#d6d6d6" stroke-width="1"/>
<line x1="914.5" y1="462.5" x2="926.5" y2="462.5" stroke="#fff" stroke-width="1.2"/>
<text x="905.8" y="472.3" font-size="10.8" fill="#000" textLength="28.4" lengthAdjust="spacing">46.65</text>
<path d="M944.5 218.5 L951.5 222.94891677766918 L958.5 218.5 Z" fill="#fff" stroke="#d6d6d6" stroke-width="1" shape-rendering="geometricPrecision"/>
<rect x="934.5" y="205.5" width="33" height="13" fill="#fff" stroke="#d6d6d6" stroke-width="1"/>
<line x1="945.5" y1="218.5" x2="957.5" y2="218.5" stroke="#fff" stroke-width="1.2"/>
<text x="936.8" y="215.3" font-size="10.8" fill="#000" textLength="28.4" lengthAdjust="spacing">62.16</text>
<path d="M969.5 201.5 L976.5 206.37741291068323 L983.5 201.5 Z" fill="#fff" stroke="#d6d6d6" stroke-width="1" shape-rendering="geometricPrecision"/>
<rect x="959.5" y="188.5" width="33" height="13" fill="#fff" stroke="#d6d6d6" stroke-width="1"/>
<line x1="970.5" y1="201.5" x2="982.5" y2="201.5" stroke="#fff" stroke-width="1.2"/>
<text x="961.8" y="198.3" font-size="10.8" fill="#000" textLength="28.4" lengthAdjust="spacing">63.46</text>
<path d="M981.5 282.5 L988.5 275.5827363149201 L995.5 282.5 Z" fill="#fff" stroke="#d6d6d6" stroke-width="1" shape-rendering="geometricPrecision"/>
<rect x="971.5" y="282.5" width="33" height="13" fill="#fff" stroke="#d6d6d6" stroke-width="1"/>
<line x1="982.5" y1="282.5" x2="994.5" y2="282.5" stroke="#fff" stroke-width="1.2"/>
<text x="973.8" y="292.3" font-size="10.8" fill="#000" textLength="28.4" lengthAdjust="spacing">58.46</text>
<path d="M1019.5 231.5 L1026.5 236.32661303874738 L1033.5 231.5 Z" fill="#fff" stroke="#d6d6d6" stroke-width="1" shape-rendering="geometricPrecision"/>
<rect x="1009.5" y="218.5" width="33" height="13" fill="#fff" stroke="#d6d6d6" stroke-width="1"/>
<line x1="1020.5" y1="231.5" x2="1032.5" y2="231.5" stroke="#fff" stroke-width="1.2"/>
<text x="1011.8" y="228.3" font-size="10.8" fill="#000" textLength="28.4" lengthAdjust="spacing">61.13</text>
<path d="M1000.5 340.5 L1007.5 333.9471790396783 L1014.5 340.5 Z" fill="#fff" stroke="#d6d6d6" stroke-width="1" shape-rendering="geometricPrecision"/>
<rect x="990.5" y="340.5" width="33" height="13" fill="#fff" stroke="#d6d6d6" stroke-width="1"/>
<line x1="1001.5" y1="340.5" x2="1013.5" y2="340.5" stroke="#fff" stroke-width="1.2"/>
<text x="992.8" y="350.3" font-size="10.8" fill="#000" textLength="28.4" lengthAdjust="spacing">54.35</text>
<rect x="9" y="38" width="186" height="14" fill="#fff"/>
<text x="26.5" y="50.3" font-size="12" fill="#111" textLength="166" lengthAdjust="spacing" >$NYA200R (Daily) 57.46</text>
<rect x="11" y="57" width="10" height="2" fill="#1e1e9c"/>
<text x="23.8" y="63" font-size="11.5" fill="#1e1e9c" textLength="73.3" lengthAdjust="spacing" >MA(50) 60.08</text>
<rect x="11" y="71" width="10" height="2" fill="#d81b45"/>
<text x="23.8" y="77" font-size="11.5" fill="#d81b45" textLength="79.8" lengthAdjust="spacing" >MA(200) 65.71</text>
<path d="M12.5 40 v9 M20.5 40 v9.5 M16.5 43 v6" stroke="#000" stroke-width="1"/><rect x="11.5" y="41.5" width="2" height="4.5" fill="#fff" stroke="#000"/><rect x="14.5" y="43.5" width="4" height="5" fill="#000"/><rect x="19.5" y="41.5" width="2" height="5.5" fill="#fff" stroke="#000"/>
<rect x="1073" y="465" width="3" height="1" fill="#d0d0d0"/>
<text x="1076.6" y="468.8" font-size="12" fill="#111" textLength="14.6" lengthAdjust="spacing" >46</text>
<rect x="1073" y="456" width="2" height="1" fill="#d0d0d0"/>
<rect x="1073" y="448" width="2" height="1" fill="#d0d0d0"/>
<rect x="1073" y="439" width="2" height="1" fill="#d0d0d0"/>
<rect x="1073" y="431" width="3" height="1" fill="#d0d0d0"/>
<text x="1076.6" y="434.8" font-size="12" fill="#111" textLength="14.6" lengthAdjust="spacing" >48</text>
<rect x="1073" y="423" width="2" height="1" fill="#d0d0d0"/>
<rect x="1073" y="414" width="2" height="1" fill="#d0d0d0"/>
<rect x="1073" y="406" width="2" height="1" fill="#d0d0d0"/>
<rect x="1073" y="398" width="3" height="1" fill="#d0d0d0"/>
<text x="1076.6" y="401.8" font-size="12" fill="#111" textLength="14.6" lengthAdjust="spacing" >50</text>
<rect x="1073" y="390" width="2" height="1" fill="#d0d0d0"/>
<rect x="1073" y="382" width="2" height="1" fill="#d0d0d0"/>
<rect x="1073" y="375" width="2" height="1" fill="#d0d0d0"/>
<rect x="1073" y="367" width="3" height="1" fill="#d0d0d0"/>
<text x="1076.6" y="370.8" font-size="12" fill="#111" textLength="14.6" lengthAdjust="spacing" >52</text>
<rect x="1073" y="359" width="2" height="1" fill="#d0d0d0"/>
<rect x="1073" y="352" width="2" height="1" fill="#d0d0d0"/>
<rect x="1073" y="344" width="2" height="1" fill="#d0d0d0"/>
<rect x="1073" y="337" width="3" height="1" fill="#d0d0d0"/>
<text x="1076.6" y="340.8" font-size="12" fill="#111" textLength="14.6" lengthAdjust="spacing" >54</text>
<rect x="1073" y="329" width="2" height="1" fill="#d0d0d0"/>
<rect x="1073" y="322" width="2" height="1" fill="#d0d0d0"/>
<rect x="1073" y="315" width="2" height="1" fill="#d0d0d0"/>
<rect x="1073" y="308" width="3" height="1" fill="#d0d0d0"/>
<text x="1076.6" y="311.8" font-size="12" fill="#111" textLength="14.6" lengthAdjust="spacing" >56</text>
<rect x="1073" y="300" width="2" height="1" fill="#d0d0d0"/>
<rect x="1073" y="293" width="2" height="1" fill="#d0d0d0"/>
<rect x="1073" y="286" width="2" height="1" fill="#d0d0d0"/>
<rect x="1073" y="279" width="3" height="1" fill="#d0d0d0"/>
<text x="1076.6" y="282.8" font-size="12" fill="#111" textLength="14.6" lengthAdjust="spacing" >58</text>
<rect x="1073" y="273" width="2" height="1" fill="#d0d0d0"/>
<rect x="1073" y="266" width="2" height="1" fill="#d0d0d0"/>
<rect x="1073" y="259" width="2" height="1" fill="#d0d0d0"/>
<rect x="1073" y="252" width="3" height="1" fill="#d0d0d0"/>
<text x="1076.6" y="255.8" font-size="12" fill="#111" textLength="14.6" lengthAdjust="spacing" >60</text>
<rect x="1073" y="246" width="2" height="1" fill="#d0d0d0"/>
<rect x="1073" y="239" width="2" height="1" fill="#d0d0d0"/>
<rect x="1073" y="232" width="2" height="1" fill="#d0d0d0"/>
<rect x="1073" y="226" width="3" height="1" fill="#d0d0d0"/>
<text x="1076.6" y="229.8" font-size="12" fill="#111" textLength="14.6" lengthAdjust="spacing" >62</text>
<rect x="1073" y="220" width="2" height="1" fill="#d0d0d0"/>
<rect x="1073" y="213" width="2" height="1" fill="#d0d0d0"/>
<rect x="1073" y="207" width="2" height="1" fill="#d0d0d0"/>
<rect x="1073" y="201" width="3" height="1" fill="#d0d0d0"/>
<text x="1076.6" y="204.8" font-size="12" fill="#111" textLength="14.6" lengthAdjust="spacing" >64</text>
<rect x="1073" y="194" width="2" height="1" fill="#d0d0d0"/>
<rect x="1073" y="188" width="2" height="1" fill="#d0d0d0"/>
<rect x="1073" y="182" width="2" height="1" fill="#d0d0d0"/>
<rect x="1073" y="176" width="3" height="1" fill="#d0d0d0"/>
<text x="1076.6" y="179.8" font-size="12" fill="#111" textLength="14.6" lengthAdjust="spacing" >66</text>
<rect x="1073" y="170" width="2" height="1" fill="#d0d0d0"/>
<rect x="1073" y="164" width="2" height="1" fill="#d0d0d0"/>
<rect x="1073" y="158" width="2" height="1" fill="#d0d0d0"/>
<rect x="1073" y="152" width="3" height="1" fill="#d0d0d0"/>
<text x="1076.6" y="155.8" font-size="12" fill="#111" textLength="14.6" lengthAdjust="spacing" >68</text>
<rect x="1073" y="146" width="2" height="1" fill="#d0d0d0"/>
<rect x="1073" y="140" width="2" height="1" fill="#d0d0d0"/>
<rect x="1073" y="135" width="2" height="1" fill="#d0d0d0"/>
<rect x="1073" y="129" width="3" height="1" fill="#d0d0d0"/>
<text x="1076.6" y="132.8" font-size="12" fill="#111" textLength="14.6" lengthAdjust="spacing" >70</text>
<rect x="1073" y="123" width="2" height="1" fill="#d0d0d0"/>
<rect x="1073" y="117" width="2" height="1" fill="#d0d0d0"/>
<rect x="1073" y="112" width="2" height="1" fill="#d0d0d0"/>
<rect x="1073" y="106" width="3" height="1" fill="#d0d0d0"/>
<text x="1076.6" y="109.8" font-size="12" fill="#111" textLength="14.6" lengthAdjust="spacing" >72</text>
<rect x="1073" y="101" width="2" height="1" fill="#d0d0d0"/>
<rect x="1073" y="95" width="2" height="1" fill="#d0d0d0"/>
<rect x="1073" y="90" width="2" height="1" fill="#d0d0d0"/>
<rect x="1073" y="84" width="3" height="1" fill="#d0d0d0"/>
<text x="1076.6" y="87.8" font-size="12" fill="#111" textLength="14.6" lengthAdjust="spacing" >74</text>
<rect x="1073" y="79" width="2" height="1" fill="#d0d0d0"/>
<rect x="1073" y="74" width="2" height="1" fill="#d0d0d0"/>
<rect x="1073" y="68" width="2" height="1" fill="#d0d0d0"/>
<rect x="1073" y="63" width="3" height="1" fill="#d0d0d0"/>
<text x="1076.6" y="66.8" font-size="12" fill="#111" textLength="14.6" lengthAdjust="spacing" >76</text>
<rect x="1073" y="58" width="2" height="1" fill="#d0d0d0"/>
<rect x="1073" y="53" width="2" height="1" fill="#d0d0d0"/>
<rect x="1073" y="47" width="2" height="1" fill="#d0d0d0"/>
<rect x="1073" y="42" width="3" height="1" fill="#d0d0d0"/>
<text x="1076.6" y="45.8" font-size="12" fill="#111" textLength="14.6" lengthAdjust="spacing" >78</text>
<path d="M1069.5 179.25 L1075 172.75 L1111.5 172.75 L1111.5 185.75 L1075 185.75 Z" fill="#fff" stroke="#d81b45" stroke-width="1.5" shape-rendering="geometricPrecision"/>
<text x="1076" y="183.75" font-size="12" fill="#000" >65.71</text>
<path d="M1069.5 250.6 L1075 244.1 L1111.5 244.1 L1111.5 257.1 L1075 257.1 Z" fill="#fff" stroke="#1e1e9c" stroke-width="1.5" shape-rendering="geometricPrecision"/>
<text x="1076" y="255.1" font-size="12" fill="#000" >60.08</text>
<path d="M1069.5 286.6 L1075 280.1 L1111.5 280.1 L1111.5 293.1 L1075 293.1 Z" fill="#fff" stroke="#111" stroke-width="1.5" shape-rendering="geometricPrecision"/>
<text x="1076" y="291.1" font-size="12" fill="#000" font-weight="bold">57.46</text>
<rect x="13" y="478" width="1" height="2" fill="#d0d0d0"/>
<rect x="13" y="493" width="1" height="2" fill="#d0d0d0"/>
<rect x="20" y="478" width="1" height="2" fill="#d0d0d0"/>
<rect x="20" y="493" width="1" height="2" fill="#d0d0d0"/>
<rect x="26" y="478" width="1" height="3" fill="#d0d0d0"/>
<rect x="26" y="492" width="1" height="3" fill="#d0d0d0"/>
<rect x="32" y="478" width="1" height="2" fill="#d0d0d0"/>
<rect x="32" y="493" width="1" height="2" fill="#d0d0d0"/>
<rect x="38" y="478" width="1" height="2" fill="#d0d0d0"/>
<rect x="38" y="493" width="1" height="2" fill="#d0d0d0"/>
<rect x="45" y="478" width="1" height="2" fill="#d0d0d0"/>
<rect x="45" y="493" width="1" height="2" fill="#d0d0d0"/>
<rect x="51" y="478" width="1" height="3" fill="#d0d0d0"/>
<rect x="51" y="492" width="1" height="3" fill="#d0d0d0"/>
<rect x="57" y="478" width="1" height="2" fill="#d0d0d0"/>
<rect x="57" y="493" width="1" height="2" fill="#d0d0d0"/>
<rect x="63" y="478" width="1" height="2" fill="#d0d0d0"/>
<rect x="63" y="493" width="1" height="2" fill="#d0d0d0"/>
<rect x="70" y="478" width="1" height="2" fill="#d0d0d0"/>
<rect x="70" y="493" width="1" height="2" fill="#d0d0d0"/>
<rect x="76" y="478" width="1" height="2" fill="#d0d0d0"/>
<rect x="76" y="493" width="1" height="2" fill="#d0d0d0"/>
<rect x="82" y="478" width="1" height="3" fill="#d0d0d0"/>
<rect x="82" y="492" width="1" height="3" fill="#d0d0d0"/>
<rect x="88" y="478" width="1" height="2" fill="#d0d0d0"/>
<rect x="88" y="493" width="1" height="2" fill="#d0d0d0"/>
<rect x="95" y="478" width="1" height="2" fill="#d0d0d0"/>
<rect x="95" y="493" width="1" height="2" fill="#d0d0d0"/>
<rect x="101" y="478" width="1" height="2" fill="#d0d0d0"/>
<rect x="101" y="493" width="1" height="2" fill="#d0d0d0"/>
<rect x="107" y="478" width="1" height="3" fill="#d0d0d0"/>
<rect x="107" y="492" width="1" height="3" fill="#d0d0d0"/>
<rect x="113" y="478" width="1" height="2" fill="#d0d0d0"/>
<rect x="113" y="493" width="1" height="2" fill="#d0d0d0"/>
<rect x="120" y="478" width="1" height="2" fill="#d0d0d0"/>
<rect x="120" y="493" width="1" height="2" fill="#d0d0d0"/>
<rect x="126" y="478" width="1" height="2" fill="#d0d0d0"/>
<rect x="126" y="493" width="1" height="2" fill="#d0d0d0"/>
<rect x="132" y="478" width="1" height="2" fill="#d0d0d0"/>
<rect x="132" y="493" width="1" height="2" fill="#d0d0d0"/>
<rect x="138" y="478" width="1" height="3" fill="#d0d0d0"/>
<rect x="138" y="492" width="1" height="3" fill="#d0d0d0"/>
<rect x="145" y="478" width="1" height="2" fill="#d0d0d0"/>
<rect x="145" y="493" width="1" height="2" fill="#d0d0d0"/>
<rect x="151" y="478" width="1" height="2" fill="#d0d0d0"/>
<rect x="151" y="493" width="1" height="2" fill="#d0d0d0"/>
<rect x="157" y="478" width="1" height="2" fill="#d0d0d0"/>
<rect x="157" y="493" width="1" height="2" fill="#d0d0d0"/>
<rect x="163" y="478" width="1" height="2" fill="#d0d0d0"/>
<rect x="163" y="493" width="1" height="2" fill="#d0d0d0"/>
<rect x="170" y="478" width="1" height="3" fill="#d0d0d0"/>
<rect x="170" y="492" width="1" height="3" fill="#d0d0d0"/>
<rect x="176" y="478" width="1" height="2" fill="#d0d0d0"/>
<rect x="176" y="493" width="1" height="2" fill="#d0d0d0"/>
<rect x="182" y="478" width="1" height="2" fill="#d0d0d0"/>
<rect x="182" y="493" width="1" height="2" fill="#d0d0d0"/>
<rect x="188" y="478" width="1" height="2" fill="#d0d0d0"/>
<rect x="188" y="493" width="1" height="2" fill="#d0d0d0"/>
<rect x="195" y="478" width="1" height="2" fill="#d0d0d0"/>
<rect x="195" y="493" width="1" height="2" fill="#d0d0d0"/>
<rect x="201" y="478" width="1" height="3" fill="#d0d0d0"/>
<rect x="201" y="492" width="1" height="3" fill="#d0d0d0"/>
<rect x="207" y="478" width="1" height="2" fill="#d0d0d0"/>
<rect x="207" y="493" width="1" height="2" fill="#d0d0d0"/>
<rect x="213" y="478" width="1" height="2" fill="#d0d0d0"/>
<rect x="213" y="493" width="1" height="2" fill="#d0d0d0"/>
<rect x="220" y="478" width="1" height="2" fill="#d0d0d0"/>
<rect x="220" y="493" width="1" height="2" fill="#d0d0d0"/>
<rect x="226" y="478" width="1" height="2" fill="#d0d0d0"/>
<rect x="226" y="493" width="1" height="2" fill="#d0d0d0"/>
<rect x="232" y="478" width="1" height="3" fill="#d0d0d0"/>
<rect x="232" y="492" width="1" height="3" fill="#d0d0d0"/>
<rect x="238" y="478" width="1" height="2" fill="#d0d0d0"/>
<rect x="238" y="493" width="1" height="2" fill="#d0d0d0"/>
<rect x="245" y="478" width="1" height="2" fill="#d0d0d0"/>
<rect x="245" y="493" width="1" height="2" fill="#d0d0d0"/>
<rect x="251" y="478" width="1" height="2" fill="#d0d0d0"/>
<rect x="251" y="493" width="1" height="2" fill="#d0d0d0"/>
<rect x="257" y="478" width="1" height="2" fill="#d0d0d0"/>
<rect x="257" y="493" width="1" height="2" fill="#d0d0d0"/>
<rect x="263" y="478" width="1" height="3" fill="#d0d0d0"/>
<rect x="263" y="492" width="1" height="3" fill="#d0d0d0"/>
<rect x="270" y="478" width="1" height="2" fill="#d0d0d0"/>
<rect x="270" y="493" width="1" height="2" fill="#d0d0d0"/>
<rect x="276" y="478" width="1" height="2" fill="#d0d0d0"/>
<rect x="276" y="493" width="1" height="2" fill="#d0d0d0"/>
<rect x="282" y="478" width="1" height="2" fill="#d0d0d0"/>
<rect x="282" y="493" width="1" height="2" fill="#d0d0d0"/>
<rect x="288" y="478" width="1" height="2" fill="#d0d0d0"/>
<rect x="288" y="493" width="1" height="2" fill="#d0d0d0"/>
<rect x="295" y="478" width="1" height="3" fill="#d0d0d0"/>
<rect x="295" y="492" width="1" height="3" fill="#d0d0d0"/>
<rect x="301" y="478" width="1" height="2" fill="#d0d0d0"/>
<rect x="301" y="493" width="1" height="2" fill="#d0d0d0"/>
<rect x="307" y="478" width="1" height="2" fill="#d0d0d0"/>
<rect x="307" y="493" width="1" height="2" fill="#d0d0d0"/>
<rect x="313" y="478" width="1" height="2" fill="#d0d0d0"/>
<rect x="313" y="493" width="1" height="2" fill="#d0d0d0"/>
<rect x="320" y="478" width="1" height="2" fill="#d0d0d0"/>
<rect x="320" y="493" width="1" height="2" fill="#d0d0d0"/>
<rect x="326" y="478" width="1" height="3" fill="#d0d0d0"/>
<rect x="326" y="492" width="1" height="3" fill="#d0d0d0"/>
<rect x="332" y="478" width="1" height="2" fill="#d0d0d0"/>
<rect x="332" y="493" width="1" height="2" fill="#d0d0d0"/>
<rect x="338" y="478" width="1" height="2" fill="#d0d0d0"/>
<rect x="338" y="493" width="1" height="2" fill="#d0d0d0"/>
<rect x="345" y="478" width="1" height="2" fill="#d0d0d0"/>
<rect x="345" y="493" width="1" height="2" fill="#d0d0d0"/>
<rect x="351" y="478" width="1" height="2" fill="#d0d0d0"/>
<rect x="351" y="493" width="1" height="2" fill="#d0d0d0"/>
<rect x="357" y="478" width="1" height="3" fill="#d0d0d0"/>
<rect x="357" y="492" width="1" height="3" fill="#d0d0d0"/>
<rect x="363" y="478" width="1" height="2" fill="#d0d0d0"/>
<rect x="363" y="493" width="1" height="2" fill="#d0d0d0"/>
<rect x="370" y="478" width="1" height="2" fill="#d0d0d0"/>
<rect x="370" y="493" width="1" height="2" fill="#d0d0d0"/>
<rect x="376" y="478" width="1" height="2" fill="#d0d0d0"/>
<rect x="376" y="493" width="1" height="2" fill="#d0d0d0"/>
<rect x="382" y="478" width="1" height="3" fill="#d0d0d0"/>
<rect x="382" y="492" width="1" height="3" fill="#d0d0d0"/>
<rect x="388" y="478" width="1" height="2" fill="#d0d0d0"/>
<rect x="388" y="493" width="1" height="2" fill="#d0d0d0"/>
<rect x="395" y="478" width="1" height="2" fill="#d0d0d0"/>
<rect x="395" y="493" width="1" height="2" fill="#d0d0d0"/>
<rect x="401" y="478" width="1" height="2" fill="#d0d0d0"/>
<rect x="401" y="493" width="1" height="2" fill="#d0d0d0"/>
<rect x="407" y="478" width="1" height="2" fill="#d0d0d0"/>
<rect x="407" y="493" width="1" height="2" fill="#d0d0d0"/>
<rect x="413" y="478" width="1" height="3" fill="#d0d0d0"/>
<rect x="413" y="492" width="1" height="3" fill="#d0d0d0"/>
<rect x="420" y="478" width="1" height="2" fill="#d0d0d0"/>
<rect x="420" y="493" width="1" height="2" fill="#d0d0d0"/>
<rect x="426" y="478" width="1" height="2" fill="#d0d0d0"/>
<rect x="426" y="493" width="1" height="2" fill="#d0d0d0"/>
<rect x="432" y="478" width="1" height="2" fill="#d0d0d0"/>
<rect x="432" y="493" width="1" height="2" fill="#d0d0d0"/>
<rect x="438" y="478" width="1" height="2" fill="#d0d0d0"/>
<rect x="438" y="493" width="1" height="2" fill="#d0d0d0"/>
<rect x="445" y="478" width="1" height="3" fill="#d0d0d0"/>
<rect x="445" y="492" width="1" height="3" fill="#d0d0d0"/>
<rect x="451" y="478" width="1" height="2" fill="#d0d0d0"/>
<rect x="451" y="493" width="1" height="2" fill="#d0d0d0"/>
<rect x="457" y="478" width="1" height="2" fill="#d0d0d0"/>
<rect x="457" y="493" width="1" height="2" fill="#d0d0d0"/>
<rect x="463" y="478" width="1" height="2" fill="#d0d0d0"/>
<rect x="463" y="493" width="1" height="2" fill="#d0d0d0"/>
<rect x="470" y="478" width="1" height="2" fill="#d0d0d0"/>
<rect x="470" y="493" width="1" height="2" fill="#d0d0d0"/>
<rect x="476" y="478" width="1" height="3" fill="#d0d0d0"/>
<rect x="476" y="492" width="1" height="3" fill="#d0d0d0"/>
<rect x="482" y="478" width="1" height="2" fill="#d0d0d0"/>
<rect x="482" y="493" width="1" height="2" fill="#d0d0d0"/>
<rect x="488" y="478" width="1" height="2" fill="#d0d0d0"/>
<rect x="488" y="493" width="1" height="2" fill="#d0d0d0"/>
<rect x="495" y="478" width="1" height="2" fill="#d0d0d0"/>
<rect x="495" y="493" width="1" height="2" fill="#d0d0d0"/>
<rect x="501" y="478" width="1" height="2" fill="#d0d0d0"/>
<rect x="501" y="493" width="1" height="2" fill="#d0d0d0"/>
<rect x="507" y="478" width="1" height="3" fill="#d0d0d0"/>
<rect x="507" y="492" width="1" height="3" fill="#d0d0d0"/>
<rect x="513" y="478" width="1" height="2" fill="#d0d0d0"/>
<rect x="513" y="493" width="1" height="2" fill="#d0d0d0"/>
<rect x="520" y="478" width="1" height="2" fill="#d0d0d0"/>
<rect x="520" y="493" width="1" height="2" fill="#d0d0d0"/>
<rect x="526" y="478" width="1" height="2" fill="#d0d0d0"/>
<rect x="526" y="493" width="1" height="2" fill="#d0d0d0"/>
<rect x="532" y="478" width="1" height="2" fill="#d0d0d0"/>
<rect x="532" y="493" width="1" height="2" fill="#d0d0d0"/>
<rect x="538" y="478" width="1" height="3" fill="#d0d0d0"/>
<rect x="538" y="492" width="1" height="3" fill="#d0d0d0"/>
<rect x="545" y="478" width="1" height="2" fill="#d0d0d0"/>
<rect x="545" y="493" width="1" height="2" fill="#d0d0d0"/>
<rect x="551" y="478" width="1" height="2" fill="#d0d0d0"/>
<rect x="551" y="493" width="1" height="2" fill="#d0d0d0"/>
<rect x="557" y="478" width="1" height="2" fill="#d0d0d0"/>
<rect x="557" y="493" width="1" height="2" fill="#d0d0d0"/>
<rect x="563" y="478" width="1" height="2" fill="#d0d0d0"/>
<rect x="563" y="493" width="1" height="2" fill="#d0d0d0"/>
<rect x="570" y="478" width="1" height="3" fill="#d0d0d0"/>
<rect x="570" y="492" width="1" height="3" fill="#d0d0d0"/>
<rect x="576" y="478" width="1" height="2" fill="#d0d0d0"/>
<rect x="576" y="493" width="1" height="2" fill="#d0d0d0"/>
<rect x="582" y="478" width="1" height="2" fill="#d0d0d0"/>
<rect x="582" y="493" width="1" height="2" fill="#d0d0d0"/>
<rect x="588" y="478" width="1" height="2" fill="#d0d0d0"/>
<rect x="588" y="493" width="1" height="2" fill="#d0d0d0"/>
<rect x="595" y="478" width="1" height="2" fill="#d0d0d0"/>
<rect x="595" y="493" width="1" height="2" fill="#d0d0d0"/>
<rect x="601" y="478" width="1" height="3" fill="#d0d0d0"/>
<rect x="601" y="492" width="1" height="3" fill="#d0d0d0"/>
<rect x="607" y="478" width="1" height="2" fill="#d0d0d0"/>
<rect x="607" y="493" width="1" height="2" fill="#d0d0d0"/>
<rect x="613" y="478" width="1" height="2" fill="#d0d0d0"/>
<rect x="613" y="493" width="1" height="2" fill="#d0d0d0"/>
<rect x="620" y="478" width="1" height="2" fill="#d0d0d0"/>
<rect x="620" y="493" width="1" height="2" fill="#d0d0d0"/>
<rect x="626" y="478" width="1" height="2" fill="#d0d0d0"/>
<rect x="626" y="493" width="1" height="2" fill="#d0d0d0"/>
<rect x="632" y="478" width="1" height="3" fill="#d0d0d0"/>
<rect x="632" y="492" width="1" height="3" fill="#d0d0d0"/>
<rect x="638" y="478" width="1" height="2" fill="#d0d0d0"/>
<rect x="638" y="493" width="1" height="2" fill="#d0d0d0"/>
<rect x="645" y="478" width="1" height="2" fill="#d0d0d0"/>
<rect x="645" y="493" width="1" height="2" fill="#d0d0d0"/>
<rect x="651" y="478" width="1" height="2" fill="#d0d0d0"/>
<rect x="651" y="493" width="1" height="2" fill="#d0d0d0"/>
<rect x="657" y="478" width="1" height="2" fill="#d0d0d0"/>
<rect x="657" y="493" width="1" height="2" fill="#d0d0d0"/>
<rect x="663" y="478" width="1" height="3" fill="#d0d0d0"/>
<rect x="663" y="492" width="1" height="3" fill="#d0d0d0"/>
<rect x="670" y="478" width="1" height="2" fill="#d0d0d0"/>
<rect x="670" y="493" width="1" height="2" fill="#d0d0d0"/>
<rect x="676" y="478" width="1" height="2" fill="#d0d0d0"/>
<rect x="676" y="493" width="1" height="2" fill="#d0d0d0"/>
<rect x="682" y="478" width="1" height="2" fill="#d0d0d0"/>
<rect x="682" y="493" width="1" height="2" fill="#d0d0d0"/>
<rect x="688" y="478" width="1" height="2" fill="#d0d0d0"/>
<rect x="688" y="493" width="1" height="2" fill="#d0d0d0"/>
<rect x="695" y="478" width="1" height="3" fill="#d0d0d0"/>
<rect x="695" y="492" width="1" height="3" fill="#d0d0d0"/>
<rect x="701" y="478" width="1" height="2" fill="#d0d0d0"/>
<rect x="701" y="493" width="1" height="2" fill="#d0d0d0"/>
<rect x="707" y="478" width="1" height="2" fill="#d0d0d0"/>
<rect x="707" y="493" width="1" height="2" fill="#d0d0d0"/>
<rect x="713" y="478" width="1" height="2" fill="#d0d0d0"/>
<rect x="713" y="493" width="1" height="2" fill="#d0d0d0"/>
<rect x="720" y="478" width="1" height="2" fill="#d0d0d0"/>
<rect x="720" y="493" width="1" height="2" fill="#d0d0d0"/>
<rect x="726" y="478" width="1" height="3" fill="#d0d0d0"/>
<rect x="726" y="492" width="1" height="3" fill="#d0d0d0"/>
<rect x="732" y="478" width="1" height="2" fill="#d0d0d0"/>
<rect x="732" y="493" width="1" height="2" fill="#d0d0d0"/>
<rect x="738" y="478" width="1" height="2" fill="#d0d0d0"/>
<rect x="738" y="493" width="1" height="2" fill="#d0d0d0"/>
<rect x="745" y="478" width="1" height="2" fill="#d0d0d0"/>
<rect x="745" y="493" width="1" height="2" fill="#d0d0d0"/>
<rect x="751" y="478" width="1" height="3" fill="#d0d0d0"/>
<rect x="751" y="492" width="1" height="3" fill="#d0d0d0"/>
<rect x="757" y="478" width="1" height="2" fill="#d0d0d0"/>
<rect x="757" y="493" width="1" height="2" fill="#d0d0d0"/>
<rect x="763" y="478" width="1" height="2" fill="#d0d0d0"/>
<rect x="763" y="493" width="1" height="2" fill="#d0d0d0"/>
<rect x="770" y="478" width="1" height="2" fill="#d0d0d0"/>
<rect x="770" y="493" width="1" height="2" fill="#d0d0d0"/>
<rect x="776" y="478" width="1" height="2" fill="#d0d0d0"/>
<rect x="776" y="493" width="1" height="2" fill="#d0d0d0"/>
<rect x="782" y="478" width="1" height="3" fill="#d0d0d0"/>
<rect x="782" y="492" width="1" height="3" fill="#d0d0d0"/>
<rect x="788" y="478" width="1" height="2" fill="#d0d0d0"/>
<rect x="788" y="493" width="1" height="2" fill="#d0d0d0"/>
<rect x="795" y="478" width="1" height="2" fill="#d0d0d0"/>
<rect x="795" y="493" width="1" height="2" fill="#d0d0d0"/>
<rect x="801" y="478" width="1" height="2" fill="#d0d0d0"/>
<rect x="801" y="493" width="1" height="2" fill="#d0d0d0"/>
<rect x="807" y="478" width="1" height="2" fill="#d0d0d0"/>
<rect x="807" y="493" width="1" height="2" fill="#d0d0d0"/>
<rect x="813" y="478" width="1" height="3" fill="#d0d0d0"/>
<rect x="813" y="492" width="1" height="3" fill="#d0d0d0"/>
<rect x="820" y="478" width="1" height="2" fill="#d0d0d0"/>
<rect x="820" y="493" width="1" height="2" fill="#d0d0d0"/>
<rect x="826" y="478" width="1" height="2" fill="#d0d0d0"/>
<rect x="826" y="493" width="1" height="2" fill="#d0d0d0"/>
<rect x="832" y="478" width="1" height="2" fill="#d0d0d0"/>
<rect x="832" y="493" width="1" height="2" fill="#d0d0d0"/>
<rect x="838" y="478" width="1" height="2" fill="#d0d0d0"/>
<rect x="838" y="493" width="1" height="2" fill="#d0d0d0"/>
<rect x="845" y="478" width="1" height="3" fill="#d0d0d0"/>
<rect x="845" y="492" width="1" height="3" fill="#d0d0d0"/>
<rect x="851" y="478" width="1" height="2" fill="#d0d0d0"/>
<rect x="851" y="493" width="1" height="2" fill="#d0d0d0"/>
<rect x="857" y="478" width="1" height="2" fill="#d0d0d0"/>
<rect x="857" y="493" width="1" height="2" fill="#d0d0d0"/>
<rect x="863" y="478" width="1" height="2" fill="#d0d0d0"/>
<rect x="863" y="493" width="1" height="2" fill="#d0d0d0"/>
<rect x="870" y="478" width="1" height="3" fill="#d0d0d0"/>
<rect x="870" y="492" width="1" height="3" fill="#d0d0d0"/>
<rect x="876" y="478" width="1" height="2" fill="#d0d0d0"/>
<rect x="876" y="493" width="1" height="2" fill="#d0d0d0"/>
<rect x="882" y="478" width="1" height="2" fill="#d0d0d0"/>
<rect x="882" y="493" width="1" height="2" fill="#d0d0d0"/>
<rect x="888" y="478" width="1" height="2" fill="#d0d0d0"/>
<rect x="888" y="493" width="1" height="2" fill="#d0d0d0"/>
<rect x="895" y="478" width="1" height="3" fill="#d0d0d0"/>
<rect x="895" y="492" width="1" height="3" fill="#d0d0d0"/>
<rect x="901" y="478" width="1" height="2" fill="#d0d0d0"/>
<rect x="901" y="493" width="1" height="2" fill="#d0d0d0"/>
<rect x="907" y="478" width="1" height="2" fill="#d0d0d0"/>
<rect x="907" y="493" width="1" height="2" fill="#d0d0d0"/>
<rect x="913" y="478" width="1" height="2" fill="#d0d0d0"/>
<rect x="913" y="493" width="1" height="2" fill="#d0d0d0"/>
<rect x="920" y="478" width="1" height="3" fill="#d0d0d0"/>
<rect x="920" y="492" width="1" height="3" fill="#d0d0d0"/>
<rect x="926" y="478" width="1" height="2" fill="#d0d0d0"/>
<rect x="926" y="493" width="1" height="2" fill="#d0d0d0"/>
<rect x="932" y="478" width="1" height="2" fill="#d0d0d0"/>
<rect x="932" y="493" width="1" height="2" fill="#d0d0d0"/>
<rect x="938" y="478" width="1" height="2" fill="#d0d0d0"/>
<rect x="938" y="493" width="1" height="2" fill="#d0d0d0"/>
<rect x="945" y="478" width="1" height="2" fill="#d0d0d0"/>
<rect x="945" y="493" width="1" height="2" fill="#d0d0d0"/>
<rect x="951" y="478" width="1" height="3" fill="#d0d0d0"/>
<rect x="951" y="492" width="1" height="3" fill="#d0d0d0"/>
<rect x="957" y="478" width="1" height="2" fill="#d0d0d0"/>
<rect x="957" y="493" width="1" height="2" fill="#d0d0d0"/>
<rect x="963" y="478" width="1" height="2" fill="#d0d0d0"/>
<rect x="963" y="493" width="1" height="2" fill="#d0d0d0"/>
<rect x="970" y="478" width="1" height="2" fill="#d0d0d0"/>
<rect x="970" y="493" width="1" height="2" fill="#d0d0d0"/>
<rect x="976" y="478" width="1" height="3" fill="#d0d0d0"/>
<rect x="976" y="492" width="1" height="3" fill="#d0d0d0"/>
<rect x="982" y="478" width="1" height="2" fill="#d0d0d0"/>
<rect x="982" y="493" width="1" height="2" fill="#d0d0d0"/>
<rect x="988" y="478" width="1" height="2" fill="#d0d0d0"/>
<rect x="988" y="493" width="1" height="2" fill="#d0d0d0"/>
<rect x="995" y="478" width="1" height="2" fill="#d0d0d0"/>
<rect x="995" y="493" width="1" height="2" fill="#d0d0d0"/>
<rect x="1001" y="478" width="1" height="2" fill="#d0d0d0"/>
<rect x="1001" y="493" width="1" height="2" fill="#d0d0d0"/>
<rect x="1007" y="478" width="1" height="3" fill="#d0d0d0"/>
<rect x="1007" y="492" width="1" height="3" fill="#d0d0d0"/>
<rect x="1013" y="478" width="1" height="2" fill="#d0d0d0"/>
<rect x="1013" y="493" width="1" height="2" fill="#d0d0d0"/>
<rect x="1020" y="478" width="1" height="2" fill="#d0d0d0"/>
<rect x="1020" y="493" width="1" height="2" fill="#d0d0d0"/>
<rect x="1026" y="478" width="1" height="2" fill="#d0d0d0"/>
<rect x="1026" y="493" width="1" height="2" fill="#d0d0d0"/>
<rect x="1032" y="478" width="1" height="2" fill="#d0d0d0"/>
<rect x="1032" y="493" width="1" height="2" fill="#d0d0d0"/>
<rect x="1038" y="478" width="1" height="3" fill="#d0d0d0"/>
<rect x="1038" y="492" width="1" height="3" fill="#d0d0d0"/>
<rect x="1045" y="478" width="1" height="2" fill="#d0d0d0"/>
<rect x="1045" y="493" width="1" height="2" fill="#d0d0d0"/>
<rect x="1051" y="478" width="1" height="2" fill="#d0d0d0"/>
<rect x="1051" y="493" width="1" height="2" fill="#d0d0d0"/>
<rect x="1057" y="478" width="1" height="2" fill="#d0d0d0"/>
<rect x="1057" y="493" width="1" height="2" fill="#d0d0d0"/>
<rect x="1063" y="478" width="1" height="2" fill="#d0d0d0"/>
<rect x="1063" y="493" width="1" height="2" fill="#d0d0d0"/>
<text x="25.1" y="491.2" font-size="12" fill="#111" text-anchor="middle" >17</text>
<text x="50.6" y="491.2" font-size="12" fill="#111" text-anchor="middle" >24</text>
<text x="72.8" y="491.2" font-size="12" fill="#111" textLength="19.6" lengthAdjust="spacingAndGlyphs" font-weight="bold" >Jul</text>
<text x="106.9" y="491.2" font-size="12" fill="#111" text-anchor="middle" >8</text>
<text x="138.1" y="491.2" font-size="12" fill="#111" text-anchor="middle" >15</text>
<text x="169.4" y="491.2" font-size="12" fill="#111" text-anchor="middle" >22</text>
<text x="199.9" y="491.2" font-size="12" fill="#111" text-anchor="middle" >29</text>
<text x="207.1" y="491.2" font-size="12" fill="#111" textLength="28.3" lengthAdjust="spacingAndGlyphs" font-weight="bold" >Aug</text>
<text x="263.2" y="491.2" font-size="12" fill="#111" text-anchor="middle" >12</text>
<text x="294.4" y="491.2" font-size="12" fill="#111" text-anchor="middle" >19</text>
<text x="325.6" y="491.2" font-size="12" fill="#111" text-anchor="middle" >26</text>
<text x="344.7" y="491.2" font-size="12" fill="#111" textLength="26.2" lengthAdjust="spacingAndGlyphs" font-weight="bold" >Sep</text>
<text x="382.9" y="491.2" font-size="12" fill="#111" text-anchor="middle" >9</text>
<text x="413.1" y="491.2" font-size="12" fill="#111" text-anchor="middle" >16</text>
<text x="444.1" y="491.2" font-size="12" fill="#111" text-anchor="middle" >23</text>
<text x="471.3" y="491.2" font-size="12" fill="#111" textLength="22.2" lengthAdjust="spacingAndGlyphs" font-weight="bold" >Oct</text>
<text x="506.9" y="491.2" font-size="12" fill="#111" text-anchor="middle" >7</text>
<text x="538.1" y="491.2" font-size="12" fill="#111" text-anchor="middle" >14</text>
<text x="569.4" y="491.2" font-size="12" fill="#111" text-anchor="middle" >21</text>
<text x="600.6" y="491.2" font-size="12" fill="#111" text-anchor="middle" >28</text>
<text x="613.9" y="491.2" font-size="12" fill="#111" textLength="25.4" lengthAdjust="spacingAndGlyphs" font-weight="bold" >Nov</text>
<text x="663.0" y="491.2" font-size="12" fill="#111" text-anchor="middle" >11</text>
<text x="694.3" y="491.2" font-size="12" fill="#111" text-anchor="middle" >18</text>
<text x="725.4" y="491.2" font-size="12" fill="#111" text-anchor="middle" >25</text>
<text x="738.9" y="491.2" font-size="12" fill="#111" textLength="24.6" lengthAdjust="spacingAndGlyphs" font-weight="bold" >Dec</text>
<text x="781.9" y="491.2" font-size="12" fill="#111" text-anchor="middle" >9</text>
<text x="813.1" y="491.2" font-size="12" fill="#111" text-anchor="middle" >16</text>
<text x="844.4" y="491.2" font-size="12" fill="#111" text-anchor="middle" >23</text>
<text x="866.2" y="491.2" font-size="12" fill="#111" textLength="30.2" lengthAdjust="spacingAndGlyphs" font-weight="bold" >2025</text>
<text x="919.8" y="491.2" font-size="12" fill="#111" text-anchor="middle" >13</text>
<text x="950.0" y="491.2" font-size="12" fill="#111" text-anchor="middle" >21</text>
<text x="975.0" y="491.2" font-size="12" fill="#111" text-anchor="middle" >27</text>
<text x="994.6" y="491.2" font-size="12" fill="#111" textLength="25.4" lengthAdjust="spacingAndGlyphs" font-weight="bold" >Feb</text>
<text x="1038.2" y="491.2" font-size="12" fill="#111" text-anchor="middle" >10</text>
</g></svg></div></body></html>
